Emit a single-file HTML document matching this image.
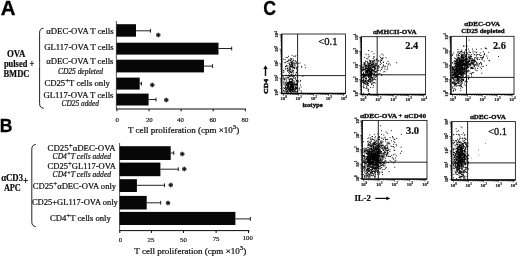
<!DOCTYPE html>
<html lang="en"><head><meta charset="utf-8"><title>Figure</title>
<style>html,body{margin:0;padding:0;background:#fff;}body{width:520px;height:257px;overflow:hidden;}svg{display:block;filter:blur(.35px);}text{font-family:"Liberation Serif",serif;fill:#0c0c0c;}.pl{font-family:"Liberation Sans",sans-serif;font-weight:bold;font-size:19.5px;fill:#000;stroke:#000;stroke-width:.3px;}.lb{font-size:8.7px;stroke:#111;stroke-width:.22px;}.it{font-size:7.6px;font-style:italic;stroke:#1a1a1a;stroke-width:.2px;}.bd{font-weight:bold;font-size:9.4px;stroke:#0c0c0c;stroke-width:.2px;}.il{font-size:8.8px;}.tk{font-size:6.8px;text-anchor:middle;stroke:#111;stroke-width:.18px;}.ax{font-size:8.7px;stroke:#111;stroke-width:.22px;}.tt{font-weight:bold;font-size:6.5px;text-anchor:middle;stroke:#0c0c0c;stroke-width:.3px;}.nm{font-weight:bold;font-size:10px;stroke:#0c0c0c;stroke-width:.2px;}.nr{font-size:10.2px;stroke:#111;stroke-width:.3px;}.ft{font-size:4.7px;text-anchor:middle;fill:#111;font-weight:bold;stroke:#111;stroke-width:.15px;}.st{font-size:10px;font-weight:bold;text-anchor:middle;stroke:#000;stroke-width:.3px;}.bar{fill:#070707;}.ln{stroke:#0a0a0a;stroke-width:1;fill:none;}.eb{stroke:#0a0a0a;stroke-width:.9;fill:none;}.va{stroke:#2a2a2a;stroke-width:.8;fill:none;}.fr{stroke:#111;stroke-width:.85;fill:none;}.th{stroke:#0a0a0a;stroke-width:0.9;fill:none;}.br{stroke:#151515;stroke-width:0.95;fill:none;}</style></head><body>
<svg width="520" height="257" viewBox="0 0 520 257">
<rect width="520" height="257" fill="#fff"/>
<text class="pl" transform="translate(0.8,14.7) scale(1.05,1)">A</text>
<text class="pl" transform="translate(-0.3,131.9) scale(0.9,0.95)">B</text>
<text class="pl" transform="translate(263.2,15.1) scale(0.91,1)">C</text>
<text id="t1" class="lb" style="text-anchor:start" transform="translate(46.3,34.3) scale(0.9983,1)">αDEC-OVA T cells</text>
<text id="t2" class="lb" style="text-anchor:start" transform="translate(44.2,50.4) scale(0.9961,1)">GL117-OVA T cells</text>
<text id="t3" class="lb" style="text-anchor:start" transform="translate(46.2,64.4) scale(0.9983,1)">αDEC-OVA T cells</text>
<text id="t4" class="it" style="text-anchor:start" transform="translate(57.9,73.7) scale(0.9855,1)">CD25 depleted</text>
<text id="t5" class="lb" style="text-anchor:start" transform="translate(44.4,86.4) scale(0.9980,1)">CD25<tspan dy="-3" font-size="7">+</tspan><tspan dy="3">T cells only</tspan></text>
<text id="t6" class="lb" style="text-anchor:start" transform="translate(43.4,98.1) scale(1.0046,1)">GL117-OVA T cells</text>
<text id="t7" class="it" style="text-anchor:start" transform="translate(61.5,106.3) scale(0.9716,1)">CD25 added</text>
<text id="t8" class="bd" style="text-anchor:start" transform="translate(7,57.3) scale(0.9369,1)">OVA</text>
<text id="t9" class="bd" style="text-anchor:start" transform="translate(3.9,67) scale(0.8978,1)">pulsed +</text>
<text id="t10" class="bd" style="text-anchor:start" transform="translate(3.4,76.5) scale(0.9075,1)">BMDC</text>
<path class="br" d="M43.6,28.2 Q39.6,28.2 39.6,32.9 L39.6,62.5 Q39.6,64.5 39.6,64.5 Q39.6,64.5 39.6,66.5 L39.6,103.5 Q39.6,108.2 43.6,108.2"/>
<path class="va" d="M116.4,21 V109"/><path class="ln" d="M116.0,109 H245.8"/>
<rect class="bar" x="116.4" y="24.2" width="19.6" height="12.5"/>
<path class="eb" d="M136,30.8 H150.4 M150.4,28.9 V32.7"/>
<text class="st" x="158.2" y="39.6">*</text>
<rect class="bar" x="116.4" y="42.7" width="102.1" height="11.9"/>
<path class="eb" d="M218.5,48.5 H231.7 M231.7,46.6 V50.4"/>
<rect class="bar" x="116.4" y="59.7" width="87.6" height="12.7"/>
<path class="eb" d="M204,66.1 H212.6 M212.6,64.2 V68.0"/>
<rect class="bar" x="116.4" y="77.6" width="23.3" height="12.0"/>
<path class="eb" d="M139.7,83.6 H141.4 M141.4,81.7 V85.5"/>
<text class="st" x="152.2" y="90.1">*</text>
<rect class="bar" x="116.4" y="93.6" width="32.2" height="11.9"/>
<path class="eb" d="M148.6,99.5 H156 M156,97.6 V101.5"/>
<text class="st" x="166.3" y="104.5">*</text>
<path class="ln" d="M116.9,109 V111.3"/>
<text id="t11" class="tk" x="117.3" y="121.5">0</text>
<path class="ln" d="M149.0,109 V111.3"/>
<text id="t12" class="tk" x="149.3" y="121.5">20</text>
<path class="ln" d="M181.10000000000002,109 V111.3"/>
<text id="t13" class="tk" x="180.5" y="121.5">40</text>
<path class="ln" d="M213.20000000000002,109 V111.3"/>
<text id="t14" class="tk" x="212.8" y="121.5">60</text>
<path class="ln" d="M245.3,109 V111.3"/>
<text id="t15" class="tk" x="244.9" y="121.5">80</text>
<text id="t16" class="ax" style="text-anchor:start" transform="translate(128,133) scale(1.0355,1)">T cell proliferation (cpm ×10<tspan dy="-4" font-size="6.5">3</tspan><tspan dy="4">)</tspan></text>
<text id="t17" class="lb" style="text-anchor:start" transform="translate(47.6,150.7) scale(1.0123,1)">CD25<tspan dy="-3" font-size="7">+</tspan><tspan dy="3">αDEC-OVA</tspan></text>
<text id="t18" class="it" style="text-anchor:start" transform="translate(52.6,158.6) scale(0.9976,1)">CD4<tspan dy="-2.4" font-size="5.8">+</tspan><tspan dy="2.4">T cells added</tspan></text>
<text id="t19" class="lb" style="text-anchor:start" transform="translate(47.6,169.1) scale(0.9811,1)">CD25<tspan dy="-3" font-size="7">+</tspan><tspan dy="3">GL117-OVA</tspan></text>
<text id="t20" class="it" style="text-anchor:start" transform="translate(52.6,177.4) scale(0.9976,1)">CD4<tspan dy="-2.4" font-size="5.8">+</tspan><tspan dy="2.4">T cells added</tspan></text>
<text id="t21" class="lb" style="text-anchor:start" transform="translate(32.7,188.8) scale(0.9890,1)">CD25<tspan dy="-3" font-size="7">+</tspan><tspan dy="3">αDEC-OVA only</tspan></text>
<text id="t22" class="lb" style="text-anchor:start" transform="translate(31.9,205.1) scale(0.9781,1)">CD25+GL117-OVA only</text>
<text id="t23" class="lb" style="text-anchor:start" transform="translate(50,220.6) scale(0.9921,1)">CD4<tspan dy="-3" font-size="7">+</tspan><tspan dy="3">T cells only</tspan></text>
<text id="t24" class="bd" style="text-anchor:start" transform="translate(1.2,180.6) scale(0.9296,1)">αCD3</text>
<text id="t25" class="bd" style="text-anchor:start" transform="translate(3.9,190.6) scale(0.8771,1)">APC</text>
<text id="t26" class="bd" x="25.6" y="184.4" text-anchor="middle">+</text>
<path class="br" d="M35.8,144.6 Q31.8,144.6 31.8,149.29999999999998 L31.8,182 Q31.8,184 31.8,184 Q31.8,184 31.8,186 L31.8,221.8 Q31.8,226.5 35.8,226.5"/>
<path class="va" d="M119.6,143 V230.6"/><path class="ln" d="M119.19999999999999,230.6 H249.4"/>
<rect class="bar" x="119.6" y="146.2" width="51.1" height="13.8"/>
<path class="eb" d="M170.7,153.0 H173.8 M173.8,151.1 V154.9"/>
<text class="st" x="182.3" y="159.0">*</text>
<rect class="bar" x="119.6" y="162.6" width="40.8" height="13.6"/>
<path class="eb" d="M160.4,169.2 H178.3 M178.3,167.3 V171.1"/>
<text class="st" x="184.2" y="174.3">*</text>
<rect class="bar" x="119.6" y="179.2" width="17.3" height="12.8"/>
<path class="eb" d="M136.9,185.3 H164.5 M164.5,183.4 V187.2"/>
<text class="st" x="170.8" y="190.3">*</text>
<rect class="bar" x="119.6" y="195.9" width="27.1" height="13.6"/>
<path class="eb" d="M146.7,202.8 H160.7 M160.7,200.9 V204.7"/>
<text class="st" x="168" y="207.7">*</text>
<rect class="bar" x="119.6" y="211.9" width="115.8" height="13.1"/>
<path class="eb" d="M235.4,218.9 H250.3 M250.3,217.0 V220.8"/>
<text id="t27" class="tk" x="120.5" y="242.1">0</text>
<text id="t28" class="tk" x="151" y="241.8">25</text>
<text id="t29" class="tk" x="183.4" y="241.7">50</text>
<text id="t30" class="tk" x="216.1" y="241">75</text>
<text id="t31" class="tk" x="247.8" y="239.7">100</text>
<path class="ln" d="M119.8,230.6v2.4M151.4,230.6v2.4M183.4,230.6v2.4M216.1,230.6v2.4M248.5,230.6v2.4"/>
<text id="t32" class="ax" style="text-anchor:start" transform="translate(134.3,254.2) scale(1.0420,1)">T cell proliferation (cpm ×10<tspan dy="-4" font-size="6.5">3</tspan><tspan dy="4">)</tspan></text>
<rect class="fr" x="281.8" y="34" width="63.7" height="59.5"/>
<path d="M281.7,34 V93.5" stroke="#000" stroke-width="1.15" fill="none"/><path d="M281.0,93.5 H345.5" stroke="#000" stroke-width="1.3" fill="none"/>
<path class="th" d="M297.6,34 V93.5 M281.8,75.6 H345.5"/>
<path d="M287.9,93.5 v1.5 M281.8,88.5 h-1.5 M290.6,93.5 v1.5 M281.8,85.9 h-1.5 M292.5,93.5 v1.5 M281.8,84.1 h-1.5 M293.9,93.5 v1.5 M281.8,82.7 h-1.5 M295.1,93.5 v1.5 M281.8,81.6 h-1.5 M296.1,93.5 v1.5 M281.8,80.6 h-1.5 M297.0,93.5 v1.5 M281.8,79.7 h-1.5 M297.7,93.5 v1.5 M281.8,79.0 h-1.5 M303.0,93.5 v1.5 M281.8,73.9 h-1.5 M305.6,93.5 v1.5 M281.8,71.4 h-1.5 M307.5,93.5 v1.5 M281.8,69.5 h-1.5 M308.9,93.5 v1.5 M281.8,68.1 h-1.5 M310.1,93.5 v1.5 M281.8,67.0 h-1.5 M311.1,93.5 v1.5 M281.8,66.0 h-1.5 M312.0,93.5 v1.5 M281.8,65.2 h-1.5 M312.8,93.5 v1.5 M281.8,64.4 h-1.5 M318.0,93.5 v1.5 M281.8,59.4 h-1.5 M320.6,93.5 v1.5 M281.8,56.8 h-1.5 M322.5,93.5 v1.5 M281.8,55.0 h-1.5 M324.0,93.5 v1.5 M281.8,53.6 h-1.5 M325.2,93.5 v1.5 M281.8,52.4 h-1.5 M326.2,93.5 v1.5 M281.8,51.4 h-1.5 M327.0,93.5 v1.5 M281.8,50.6 h-1.5 M327.8,93.5 v1.5 M281.8,49.8 h-1.5 M333.0,93.5 v1.5 M281.8,44.8 h-1.5 M335.7,93.5 v1.5 M281.8,42.2 h-1.5 M337.6,93.5 v1.5 M281.8,40.4 h-1.5 M339.0,93.5 v1.5 M281.8,39.0 h-1.5 M340.2,93.5 v1.5 M281.8,37.8 h-1.5 M341.2,93.5 v1.5 M281.8,36.8 h-1.5 M342.1,93.5 v1.5 M281.8,36.0 h-1.5 M342.8,93.5 v1.5 M281.8,35.3 h-1.5 M283.4,93.5 v2.4 M281.8,92.9 h-2.4 M298.4,93.5 v2.4 M281.8,78.3 h-2.4 M313.5,93.5 v2.4 M281.8,63.7 h-2.4 M328.5,93.5 v2.4 M281.8,49.2 h-2.4 M343.5,93.5 v2.4 M281.8,34.6 h-2.4" stroke="#111" stroke-width="0.6" fill="none"/>
<text class="ft" x="283.7" y="100.1">10<tspan dy="-1.7" font-size="3.3">0</tspan></text>
<text class="ft" transform="translate(278.4,92.6) rotate(-90)">10<tspan dy="-1.7" font-size="3.3">0</tspan></text>
<text class="ft" x="298.7" y="100.1">10<tspan dy="-1.7" font-size="3.3">1</tspan></text>
<text class="ft" transform="translate(278.4,78.0) rotate(-90)">10<tspan dy="-1.7" font-size="3.3">1</tspan></text>
<text class="ft" x="313.8" y="100.1">10<tspan dy="-1.7" font-size="3.3">2</tspan></text>
<text class="ft" transform="translate(278.4,63.4) rotate(-90)">10<tspan dy="-1.7" font-size="3.3">2</tspan></text>
<text class="ft" x="328.8" y="100.1">10<tspan dy="-1.7" font-size="3.3">3</tspan></text>
<text class="ft" transform="translate(278.4,48.9) rotate(-90)">10<tspan dy="-1.7" font-size="3.3">3</tspan></text>
<text class="ft" x="343.8" y="100.1">10<tspan dy="-1.7" font-size="3.3">4</tspan></text>
<text class="ft" transform="translate(278.4,34.3) rotate(-90)">10<tspan dy="-1.7" font-size="3.3">4</tspan></text>
<path d="M289.6,63.9h.95 M289.7,69.2h.95 M287.1,69.0h.95 M294.6,63.5h.95 M294.3,64.7h.95 M292.0,65.5h.95 M284.3,62.6h.95 M292.4,63.4h.95 M284.2,79.4h.95 M287.2,70.6h.95 M291.6,67.1h.95 M292.4,70.8h.95 M291.6,64.3h.95 M288.1,56.3h.95 M292.6,58.9h.95 M288.2,72.2h.95 M289.2,67.9h.95 M292.8,65.0h.95 M288.8,73.5h.95 M288.6,59.4h.95 M287.5,65.9h.95 M292.1,76.4h.95 M290.7,58.5h.95 M283.0,70.4h.95 M290.1,72.4h.95 M292.3,67.1h.95 M285.1,62.6h.95 M293.0,60.4h.95 M295.8,63.7h.95 M290.9,75.3h.95 M292.8,70.6h.95 M288.8,75.5h.95 M286.9,71.1h.95 M295.3,79.3h.95 M285.1,66.4h.95 M295.8,62.3h.95 M283.5,84.5h.95 M291.8,71.5h.95 M286.4,61.4h.95 M294.6,65.3h.95 M291.4,64.0h.95 M296.4,62.0h.95 M292.4,63.1h.95 M284.7,59.7h.95 M294.0,63.0h.95 M283.2,72.4h.95 M293.6,78.2h.95 M289.8,60.5h.95 M285.6,57.4h.95 M292.5,67.6h.95 M291.7,62.6h.95 M290.9,59.5h.95 M288.1,70.1h.95 M294.4,66.1h.95 M287.2,61.5h.95 M295.9,68.9h.95 M285.4,68.8h.95 M289.9,69.0h.95 M295.7,72.7h.95 M295.2,74.4h.95 M287.6,63.4h.95 M294.7,60.7h.95 M291.8,65.9h.95 M291.1,63.2h.95 M289.8,65.3h.95 M292.6,66.6h.95 M293.3,62.8h.95 M297.9,63.6h.95 M288.9,69.7h.95 M290.5,61.0h.95 M289.3,64.7h.95 M297.3,82.4h.95 M286.3,66.2h.95 M292.0,65.2h.95 M288.9,63.0h.95 M291.5,70.2h.95 M299.5,63.1h.95 M288.4,68.0h.95 M289.7,67.6h.95 M289.5,71.9h.95 M289.0,64.4h.95 M291.1,74.8h.95 M291.1,72.6h.95 M291.6,55.2h.95 M297.7,66.9h.95 M292.9,77.8h.95 M290.3,71.7h.95 M287.1,68.3h.95 M291.4,66.6h.95 M290.0,62.2h.95 M287.2,82.7h.95 M293.9,68.1h.95 M291.0,62.4h.95 M291.3,62.7h.95 M284.8,77.8h.95 M292.8,72.8h.95 M286.7,77.2h.95 M295.2,61.3h.95 M296.0,72.1h.95 M290.5,74.4h.95 M293.3,56.2h.95 M287.2,57.5h.95 M294.2,67.5h.95 M283.2,59.2h.95 M290.1,71.0h.95 M292.0,64.1h.95 M296.0,72.6h.95 M294.7,56.6h.95 M295.9,67.2h.95 M287.7,60.9h.95 M290.9,66.1h.95 M295.8,67.8h.95 M283.4,71.0h.95 M285.5,66.7h.95 M293.2,67.8h.95 M293.1,70.8h.95 M289.0,70.3h.95 M291.5,61.7h.95 M288.6,75.6h.95 M291.8,61.2h.95 M288.3,60.7h.95 M288.3,75.1h.95 M289.6,60.2h.95 M291.0,66.7h.95 M290.8,65.7h.95 M288.3,77.6h.95 M291.5,72.2h.95 M289.4,75.4h.95 M290.0,66.4h.95 M288.8,71.8h.95 M289.5,69.1h.95 M296.8,74.2h.95 M290.3,66.1h.95 M282.9,76.8h.95 M284.8,68.8h.95 M286.1,65.4h.95 M296.8,76.7h.95 M290.2,58.8h.95 M297.1,70.2h.95 M291.7,64.3h.95 M289.2,66.3h.95 M290.6,64.5h.95 M287.4,77.5h.95 M292.2,69.0h.95 M289.4,76.5h.95 M295.3,55.7h.95 M293.1,67.5h.95 M294.1,68.3h.95 M292.6,60.8h.95 M287.1,68.2h.95 M291.4,82.4h.95 M290.2,87.2h.95 M286.5,88.2h.95 M293.6,85.6h.95 M287.1,90.4h.95 M300.2,80.4h.95 M292.7,86.9h.95 M292.6,83.9h.95 M296.5,83.9h.95 M290.1,83.9h.95 M283.1,82.0h.95 M291.5,89.5h.95 M295.2,77.7h.95 M285.1,89.7h.95 M291.4,85.4h.95 M288.8,90.9h.95 M298.1,81.0h.95 M285.9,92.2h.95 M296.6,81.4h.95 M297.0,82.2h.95 M287.1,85.3h.95 M283.1,90.2h.95 M293.6,85.9h.95 M292.1,85.4h.95 M291.3,85.1h.95 M293.4,88.7h.95 M296.2,87.3h.95 M294.5,84.2h.95 M293.4,82.6h.95 M290.6,78.8h.95 M290.9,89.1h.95 M289.5,88.1h.95 M291.7,79.5h.95 M294.5,90.9h.95 M292.1,83.9h.95 M287.1,91.5h.95 M290.1,82.1h.95 M289.9,82.8h.95 M285.3,89.7h.95 M287.5,87.4h.95 M291.3,85.0h.95 M291.3,86.4h.95 M287.5,85.5h.95 M291.6,81.2h.95 M284.0,88.5h.95 M287.7,86.3h.95 M293.4,88.7h.95 M290.8,89.7h.95 M291.3,74.3h.95 M287.9,89.7h.95 M289.5,82.5h.95 M289.6,86.5h.95 M290.4,90.1h.95 M293.1,89.2h.95 M290.3,86.8h.95 M290.3,86.5h.95 M291.9,87.3h.95 M290.9,82.4h.95 M290.7,85.6h.95 M295.2,91.5h.95 M289.2,90.4h.95 M285.4,83.3h.95 M287.8,92.4h.95 M299.8,81.4h.95 M295.1,86.9h.95 M289.4,81.4h.95 M283.6,91.9h.95 M286.0,85.6h.95 M288.4,91.8h.95 M289.6,82.1h.95 M284.5,83.8h.95 M286.0,81.1h.95 M286.8,87.7h.95 M287.8,84.0h.95 M290.7,87.7h.95 M291.6,83.2h.95 M286.2,91.0h.95 M286.6,88.8h.95 M286.4,78.3h.95 M290.4,86.4h.95 M285.9,91.9h.95 M289.1,79.5h.95 M292.7,86.2h.95 M291.8,86.9h.95 M296.3,83.8h.95 M296.1,80.6h.95 M289.6,90.2h.95 M293.1,89.3h.95 M284.5,91.5h.95 M286.7,84.2h.95 M291.3,86.4h.95 M296.4,87.9h.95 M294.8,84.4h.95 M290.4,87.1h.95 M295.8,88.4h.95 M285.1,88.0h.95 M294.6,91.1h.95 M291.2,79.1h.95 M295.6,82.0h.95 M300.0,84.9h.95 M290.0,90.5h.95 M292.0,81.3h.95 M289.5,86.7h.95 M292.8,83.2h.95 M289.4,88.6h.95 M289.3,87.4h.95 M288.9,80.7h.95 M295.4,89.4h.95 M289.9,87.3h.95 M287.7,82.2h.95 M287.7,86.1h.95 M290.3,91.3h.95 M290.5,87.1h.95 M292.2,88.4h.95 M293.0,86.0h.95 M290.1,86.3h.95 M283.2,79.1h.95 M296.1,88.2h.95 M283.2,87.9h.95 M295.2,86.0h.95 M287.8,82.7h.95 M290.1,84.9h.95 M295.9,80.8h.95 M288.4,75.9h.95 M290.3,82.7h.95 M287.9,86.7h.95 M283.8,78.5h.95 M295.4,91.6h.95 M284.7,90.9h.95 M294.7,88.1h.95 M290.1,87.8h.95 M289.9,91.3h.95 M290.4,92.1h.95 M290.0,84.9h.95 M292.0,87.3h.95 M287.0,85.8h.95 M288.5,79.2h.95 M293.1,86.7h.95 M288.6,89.6h.95 M286.8,88.1h.95 M291.4,83.9h.95 M292.4,76.5h.95 M287.7,86.4h.95 M300.6,90.8h.95 M288.4,85.6h.95 M290.9,84.4h.95 M289.4,84.7h.95 M290.5,82.7h.95 M283.3,90.8h.95 M290.3,91.0h.95 M286.4,83.7h.95 M287.9,83.5h.95 M293.1,84.7h.95 M292.2,86.7h.95 M285.1,86.8h.95 M292.0,88.6h.95 M289.9,82.9h.95 M287.1,83.6h.95 M297.2,88.4h.95 M290.8,87.0h.95 M296.0,84.5h.95 M293.6,89.3h.95 M290.2,86.3h.95 M283.7,80.1h.95 M293.6,90.9h.95 M293.1,86.7h.95 M292.0,84.5h.95 M284.8,87.6h.95 M295.8,88.6h.95 M286.5,92.2h.95 M285.8,85.0h.95 M296.6,83.9h.95 M291.2,76.0h.95 M288.4,89.5h.95 M292.3,83.7h.95 M286.5,91.9h.95 M291.4,85.1h.95 M285.5,87.5h.95 M288.3,84.3h.95 M289.9,86.7h.95 M289.0,81.5h.95 M295.4,87.7h.95 M293.4,89.6h.95 M290.6,82.8h.95 M295.9,87.7h.95 M290.0,85.4h.95 M284.8,86.6h.95 M287.8,84.7h.95 M286.1,89.4h.95 M290.4,85.1h.95 M288.3,82.3h.95 M289.3,89.1h.95 M292.1,91.6h.95 M287.8,86.6h.95 M293.4,86.9h.95 M291.4,89.2h.95 M291.4,78.6h.95 M287.8,75.6h.95 M287.9,86.4h.95 M290.9,81.6h.95 M285.7,88.8h.95 M292.5,82.5h.95 M292.6,74.1h.95 M291.1,85.1h.95 M293.7,84.4h.95 M296.5,91.6h.95 M288.9,82.8h.95 M293.3,87.8h.95 M293.7,76.2h.95 M290.3,87.5h.95 M288.5,90.3h.95 M288.0,83.5h.95 M290.4,86.0h.95 M289.7,82.1h.95 M292.1,86.8h.95 M292.8,86.8h.95 M286.0,79.9h.95 M292.0,90.6h.95 M294.3,84.5h.95 M284.5,79.3h.95 M291.5,82.1h.95 M291.0,86.9h.95 M284.6,82.2h.95 M290.4,87.6h.95 M291.6,85.9h.95 M292.8,87.8h.95 M290.2,88.9h.95 M288.7,83.3h.95 M295.2,87.7h.95 M289.9,79.1h.95 M289.1,83.0h.95 M296.5,85.7h.95 M294.8,89.3h.95 M291.1,86.6h.95 M290.7,81.1h.95 M299.1,88.8h.95 M288.2,84.1h.95 M286.4,84.3h.95 M292.4,87.4h.95 M292.3,91.7h.95 M293.1,91.8h.95 M287.7,89.0h.95 M288.8,82.4h.95 M290.6,88.1h.95 M292.3,78.9h.95 M290.3,84.6h.95 M294.9,84.8h.95 M285.5,75.2h.95 M298.5,90.1h.95 M290.2,84.4h.95 M293.9,83.0h.95 M289.3,91.2h.95 M290.7,81.5h.95 M286.3,91.3h.95 M290.2,89.8h.95 M289.3,88.4h.95 M292.0,89.4h.95 M287.0,88.3h.95 M290.1,89.4h.95 M290.3,82.9h.95 M294.7,78.2h.95 M287.4,88.4h.95 M282.7,78.1h.95 M297.0,91.1h.95 M292.8,80.7h.95 M283.4,83.0h.95 M291.1,84.1h.95 M291.9,80.2h.95 M289.5,82.3h.95 M288.8,83.0h.95 M287.3,87.0h.95 M296.7,83.9h.95 M289.7,91.6h.95 M287.4,85.6h.95 M293.8,84.1h.95 M292.2,86.4h.95 M295.3,87.8h.95 M288.3,82.3h.95 M290.5,87.6h.95 M288.2,87.6h.95 M292.6,84.5h.95 M285.8,84.6h.95 M291.0,90.9h.95 M293.2,87.4h.95 M289.1,82.7h.95 M295.2,89.2h.95 M291.9,90.2h.95 M298.9,88.0h.95 M294.7,89.0h.95 M293.3,75.9h.95 M292.2,86.0h.95 M290.7,82.3h.95 M288.0,84.4h.95 M286.9,82.7h.95 M287.5,86.1h.95 M290.8,92.5h.95 M288.6,84.7h.95 M289.4,89.5h.95 M287.8,89.0h.95 M290.2,87.5h.95 M294.7,84.1h.95 M289.5,90.4h.95 M290.7,83.3h.95 M289.8,78.6h.95 M296.6,80.7h.95 M289.6,76.4h.95 M293.1,91.3h.95 M295.5,92.2h.95 M285.6,82.3h.95 M295.8,85.1h.95 M294.0,81.2h.95 M284.6,85.3h.95 M292.7,90.6h.95 M292.9,87.9h.95 M291.6,86.1h.95 M296.2,84.9h.95 M289.7,91.5h.95 M287.9,77.9h.95 M292.0,81.6h.95 M293.7,92.2h.95 M288.7,88.1h.95 M293.9,90.3h.95 M288.4,89.1h.95 M286.9,87.4h.95 M290.6,90.2h.95 M287.4,85.8h.95 M296.6,85.0h.95 M286.3,84.3h.95 M294.1,84.2h.95 M291.5,88.1h.95 M300.6,86.9h.95 M301.3,67.0h.95 M301.1,66.7h.95 M302.4,76.3h.95 M296.5,69.1h.95 M301.2,92.1h.95 M305.1,67.7h.95 M304.5,65.0h.95" stroke="#000" stroke-width="0.95" fill="none"/>
<text id="t33" class="nr" style="text-anchor:start" transform="translate(318.3,45.4) scale(1.0387,1)">&lt;0.1</text>
<text id="t34" class="tt" style="text-anchor:start" transform="translate(302.4,107.2) scale(1.0502,1)">isotype</text>
<rect class="fr" x="361.3" y="36.7" width="64.3" height="57.8"/>
<path d="M361.2,36.7 V94.5" stroke="#000" stroke-width="1.15" fill="none"/><path d="M360.5,94.5 H425.6" stroke="#000" stroke-width="1.3" fill="none"/>
<path class="th" d="M377.2,36.7 V94.5 M361.3,74.8 H425.6"/>
<path d="M367.5,94.5 v1.5 M361.3,89.6 h-1.5 M370.1,94.5 v1.5 M361.3,87.1 h-1.5 M372.0,94.5 v1.5 M361.3,85.4 h-1.5 M373.5,94.5 v1.5 M361.3,84.0 h-1.5 M374.7,94.5 v1.5 M361.3,82.9 h-1.5 M375.7,94.5 v1.5 M361.3,81.9 h-1.5 M376.6,94.5 v1.5 M361.3,81.1 h-1.5 M377.4,94.5 v1.5 M361.3,80.4 h-1.5 M382.6,94.5 v1.5 M361.3,75.5 h-1.5 M385.3,94.5 v1.5 M361.3,73.0 h-1.5 M387.2,94.5 v1.5 M361.3,71.2 h-1.5 M388.7,94.5 v1.5 M361.3,69.8 h-1.5 M389.9,94.5 v1.5 M361.3,68.7 h-1.5 M390.9,94.5 v1.5 M361.3,67.8 h-1.5 M391.8,94.5 v1.5 M361.3,67.0 h-1.5 M392.6,94.5 v1.5 M361.3,66.2 h-1.5 M397.8,94.5 v1.5 M361.3,61.3 h-1.5 M400.5,94.5 v1.5 M361.3,58.8 h-1.5 M402.4,94.5 v1.5 M361.3,57.1 h-1.5 M403.9,94.5 v1.5 M361.3,55.7 h-1.5 M405.1,94.5 v1.5 M361.3,54.6 h-1.5 M406.1,94.5 v1.5 M361.3,53.6 h-1.5 M407.0,94.5 v1.5 M361.3,52.8 h-1.5 M407.7,94.5 v1.5 M361.3,52.1 h-1.5 M413.0,94.5 v1.5 M361.3,47.2 h-1.5 M415.7,94.5 v1.5 M361.3,44.7 h-1.5 M417.6,94.5 v1.5 M361.3,42.9 h-1.5 M419.0,94.5 v1.5 M361.3,41.5 h-1.5 M420.2,94.5 v1.5 M361.3,40.4 h-1.5 M421.2,94.5 v1.5 M361.3,39.4 h-1.5 M422.1,94.5 v1.5 M361.3,38.6 h-1.5 M422.9,94.5 v1.5 M361.3,37.9 h-1.5 M362.9,94.5 v2.4 M361.3,93.9 h-2.4 M378.1,94.5 v2.4 M361.3,79.7 h-2.4 M393.2,94.5 v2.4 M361.3,65.6 h-2.4 M408.4,94.5 v2.4 M361.3,51.4 h-2.4 M423.6,94.5 v2.4 M361.3,37.3 h-2.4" stroke="#111" stroke-width="0.6" fill="none"/>
<text class="ft" x="363.2" y="101.1">10<tspan dy="-1.7" font-size="3.3">0</tspan></text>
<text class="ft" transform="translate(357.9,93.6) rotate(-90)">10<tspan dy="-1.7" font-size="3.3">0</tspan></text>
<text class="ft" x="378.4" y="101.1">10<tspan dy="-1.7" font-size="3.3">1</tspan></text>
<text class="ft" transform="translate(357.9,79.4) rotate(-90)">10<tspan dy="-1.7" font-size="3.3">1</tspan></text>
<text class="ft" x="393.5" y="101.1">10<tspan dy="-1.7" font-size="3.3">2</tspan></text>
<text class="ft" transform="translate(357.9,65.3) rotate(-90)">10<tspan dy="-1.7" font-size="3.3">2</tspan></text>
<text class="ft" x="408.7" y="101.1">10<tspan dy="-1.7" font-size="3.3">3</tspan></text>
<text class="ft" transform="translate(357.9,51.1) rotate(-90)">10<tspan dy="-1.7" font-size="3.3">3</tspan></text>
<text class="ft" x="423.9" y="101.1">10<tspan dy="-1.7" font-size="3.3">4</tspan></text>
<text class="ft" transform="translate(357.9,37.0) rotate(-90)">10<tspan dy="-1.7" font-size="3.3">4</tspan></text>
<path d="M368.2,71.1h.95 M366.1,65.4h.95 M367.8,57.1h.95 M366.1,67.4h.95 M373.9,67.5h.95 M367.7,80.8h.95 M373.3,61.6h.95 M374.9,71.7h.95 M375.0,63.9h.95 M371.7,66.7h.95 M367.1,74.4h.95 M372.7,71.6h.95 M369.2,70.7h.95 M370.3,61.4h.95 M366.1,70.5h.95 M366.9,72.9h.95 M366.5,84.5h.95 M367.3,83.3h.95 M374.1,79.3h.95 M366.6,71.2h.95 M367.1,63.0h.95 M368.1,83.8h.95 M372.4,73.0h.95 M379.5,73.4h.95 M366.7,73.1h.95 M364.3,69.6h.95 M373.8,56.8h.95 M370.3,72.2h.95 M373.6,60.2h.95 M367.8,76.6h.95 M365.6,72.5h.95 M368.3,66.8h.95 M372.4,79.1h.95 M370.1,68.9h.95 M367.1,72.1h.95 M373.6,69.7h.95 M368.3,75.2h.95 M369.7,75.6h.95 M370.4,80.6h.95 M365.8,71.3h.95 M373.3,74.4h.95 M368.6,67.6h.95 M367.2,71.6h.95 M369.6,82.2h.95 M362.6,74.5h.95 M364.6,75.0h.95 M368.9,78.7h.95 M364.5,81.4h.95 M372.6,87.4h.95 M371.3,72.0h.95 M365.5,72.6h.95 M367.7,80.9h.95 M367.6,73.2h.95 M369.6,72.1h.95 M367.7,90.4h.95 M365.5,71.3h.95 M370.2,79.0h.95 M365.5,83.2h.95 M363.0,72.8h.95 M371.1,72.2h.95 M369.4,62.3h.95 M364.2,75.4h.95 M367.9,66.2h.95 M363.2,87.8h.95 M369.6,77.5h.95 M369.1,68.3h.95 M370.0,65.5h.95 M369.1,72.6h.95 M362.6,69.3h.95 M363.5,76.5h.95 M373.0,82.8h.95 M370.9,77.5h.95 M367.9,85.5h.95 M363.3,73.7h.95 M368.1,67.6h.95 M368.0,91.3h.95 M368.2,79.8h.95 M370.7,76.3h.95 M368.8,56.3h.95 M364.4,83.5h.95 M363.1,93.2h.95 M370.8,78.0h.95 M367.5,83.1h.95 M367.4,68.6h.95 M367.2,75.7h.95 M370.1,74.3h.95 M370.0,71.5h.95 M371.4,74.4h.95 M368.9,71.3h.95 M373.8,67.1h.95 M364.5,83.7h.95 M368.2,75.8h.95 M365.3,78.4h.95 M371.1,84.2h.95 M369.4,74.2h.95 M373.8,82.4h.95 M370.0,73.4h.95 M368.8,69.2h.95 M375.3,66.2h.95 M370.3,81.9h.95 M370.7,81.3h.95 M367.9,69.8h.95 M373.4,63.0h.95 M369.2,66.2h.95 M367.6,72.6h.95 M368.2,66.9h.95 M367.5,80.5h.95 M364.2,57.6h.95 M372.0,69.5h.95 M362.4,71.0h.95 M365.0,65.1h.95 M365.8,75.6h.95 M369.3,75.0h.95 M369.3,76.7h.95 M370.8,71.6h.95 M369.1,93.4h.95 M372.6,70.5h.95 M362.7,75.8h.95 M368.4,70.1h.95 M365.8,68.5h.95 M367.3,71.0h.95 M373.9,73.7h.95 M368.3,75.0h.95 M367.2,70.9h.95 M362.7,73.5h.95 M363.2,80.4h.95 M371.3,84.0h.95 M373.1,56.9h.95 M372.3,65.8h.95 M368.7,74.1h.95 M376.2,76.2h.95 M368.3,68.9h.95 M366.5,83.0h.95 M369.4,72.1h.95 M362.1,80.5h.95 M365.6,76.5h.95 M370.2,65.9h.95 M363.8,75.6h.95 M366.0,86.3h.95 M370.7,75.2h.95 M367.4,88.7h.95 M370.1,71.7h.95 M370.7,75.5h.95 M373.8,67.7h.95 M366.5,70.8h.95 M370.6,76.0h.95 M372.3,67.3h.95 M371.1,63.9h.95 M377.6,68.5h.95 M366.6,70.5h.95 M367.9,89.4h.95 M375.4,65.9h.95 M362.5,80.6h.95 M369.3,74.8h.95 M367.0,71.7h.95 M371.8,63.7h.95 M369.1,69.6h.95 M362.8,86.6h.95 M368.3,77.1h.95 M368.8,78.9h.95 M366.0,75.1h.95 M370.4,76.7h.95 M369.6,75.0h.95 M362.6,80.6h.95 M363.5,81.8h.95 M369.2,74.9h.95 M367.1,85.2h.95 M371.4,73.8h.95 M363.2,75.7h.95 M372.2,81.1h.95 M369.7,81.8h.95 M371.3,67.1h.95 M367.3,80.9h.95 M363.0,82.5h.95 M371.1,69.5h.95 M368.1,77.4h.95 M367.7,69.7h.95 M362.1,81.0h.95 M362.6,79.1h.95 M363.0,76.6h.95 M370.4,79.9h.95 M362.3,67.2h.95 M364.9,74.5h.95 M366.4,66.9h.95 M368.0,67.5h.95 M369.3,73.5h.95 M368.7,79.7h.95 M370.2,74.3h.95 M365.0,75.2h.95 M370.9,72.6h.95 M367.9,77.3h.95 M369.9,63.2h.95 M373.0,66.6h.95 M363.4,85.1h.95 M369.2,69.6h.95 M377.7,74.5h.95 M372.5,65.0h.95 M362.1,82.4h.95 M368.9,76.4h.95 M367.7,69.8h.95 M365.3,71.1h.95 M365.9,78.4h.95 M370.3,76.3h.95 M369.4,60.4h.95 M368.4,74.1h.95 M371.0,74.3h.95 M372.3,80.6h.95 M370.6,75.7h.95 M365.3,61.2h.95 M365.2,61.4h.95 M370.7,60.7h.95 M364.7,65.8h.95 M373.7,71.0h.95 M367.8,54.7h.95 M369.0,75.8h.95 M366.0,70.9h.95 M369.5,71.0h.95 M374.7,72.1h.95 M370.1,61.1h.95 M364.6,67.1h.95 M375.1,79.7h.95 M364.2,83.0h.95 M363.2,73.2h.95 M366.7,82.5h.95 M368.1,81.2h.95 M371.8,77.6h.95 M368.1,67.6h.95 M371.1,64.8h.95 M372.2,67.9h.95 M370.9,64.7h.95 M363.7,75.3h.95 M368.6,73.5h.95 M370.5,79.0h.95 M363.2,79.9h.95 M370.2,78.1h.95 M362.7,67.9h.95 M364.3,64.9h.95 M369.2,79.7h.95 M363.6,87.5h.95 M362.3,75.6h.95 M363.2,83.6h.95 M374.5,75.4h.95 M371.4,84.1h.95 M367.3,71.6h.95 M372.1,79.5h.95 M370.5,68.9h.95 M365.6,70.8h.95 M365.0,80.8h.95 M368.2,93.5h.95 M367.9,80.8h.95 M362.9,79.1h.95 M371.1,74.6h.95 M373.0,79.3h.95 M363.4,63.8h.95 M369.8,65.1h.95 M365.2,68.5h.95 M369.3,67.6h.95 M368.4,63.8h.95 M365.9,81.5h.95 M362.8,67.1h.95 M365.6,82.3h.95 M364.8,78.2h.95 M363.6,77.7h.95 M366.0,78.4h.95 M364.7,74.6h.95 M366.6,73.0h.95 M369.2,69.9h.95 M365.4,72.3h.95 M363.7,75.8h.95 M371.4,77.2h.95 M369.8,82.0h.95 M370.5,69.5h.95 M367.8,75.2h.95 M367.9,63.1h.95 M372.9,85.6h.95 M364.5,76.2h.95 M368.5,80.6h.95 M371.5,51.7h.95 M364.3,82.8h.95 M368.9,64.0h.95 M371.5,70.3h.95 M370.4,71.2h.95 M368.3,74.5h.95 M366.6,70.7h.95 M368.0,70.5h.95 M366.9,61.8h.95 M369.0,72.1h.95 M374.3,68.9h.95 M369.4,70.6h.95 M362.5,68.5h.95 M363.6,66.3h.95 M370.9,73.7h.95 M364.3,69.8h.95 M367.1,61.9h.95 M367.0,72.4h.95 M368.3,81.1h.95 M362.8,70.2h.95 M369.8,72.8h.95 M366.1,68.6h.95 M365.0,68.0h.95 M369.6,79.5h.95 M366.5,75.8h.95 M366.4,71.9h.95 M364.9,81.3h.95 M364.2,81.7h.95 M370.1,67.9h.95 M362.9,75.5h.95 M377.6,60.5h.95 M366.3,87.6h.95 M365.8,65.3h.95 M375.2,71.4h.95 M365.7,78.2h.95 M362.4,69.8h.95 M363.7,64.5h.95 M364.2,75.2h.95 M368.5,73.5h.95 M372.2,82.9h.95 M364.8,73.2h.95 M367.6,66.5h.95 M362.4,69.5h.95 M364.7,77.1h.95 M375.4,65.2h.95 M363.0,69.8h.95 M366.5,65.7h.95 M370.7,70.3h.95 M365.9,74.2h.95 M373.3,75.4h.95 M368.8,73.1h.95 M374.5,67.6h.95 M364.3,63.4h.95 M371.8,70.4h.95 M365.6,88.5h.95 M364.5,68.1h.95 M365.3,84.5h.95 M369.0,70.8h.95 M370.5,66.9h.95 M373.5,76.6h.95 M371.9,78.5h.95 M370.9,70.3h.95 M369.2,65.2h.95 M368.2,64.6h.95 M371.5,70.3h.95 M366.2,79.8h.95 M366.3,75.6h.95 M368.2,50.5h.95 M370.7,65.9h.95 M365.1,80.0h.95 M367.1,72.2h.95 M364.5,62.8h.95 M366.2,66.0h.95 M362.3,77.6h.95 M369.0,69.8h.95 M372.8,67.6h.95 M371.1,77.6h.95 M376.0,74.4h.95 M372.9,66.6h.95 M366.8,71.5h.95 M371.1,73.0h.95 M363.4,79.8h.95 M373.6,73.2h.95 M365.1,69.5h.95 M373.5,53.7h.95 M370.9,71.9h.95 M371.1,70.1h.95 M363.5,62.4h.95 M374.1,78.1h.95 M374.5,65.9h.95 M367.0,84.3h.95 M369.5,72.6h.95 M372.1,61.0h.95 M373.5,74.5h.95 M366.8,64.2h.95 M368.4,76.5h.95 M367.0,68.5h.95 M371.3,65.3h.95 M369.6,67.4h.95 M371.8,62.3h.95 M374.2,69.0h.95 M368.6,70.9h.95 M370.6,74.1h.95 M375.1,75.5h.95 M369.9,74.8h.95 M366.7,72.7h.95 M374.7,75.9h.95 M365.5,80.5h.95 M364.6,63.1h.95 M363.1,74.2h.95 M369.9,68.0h.95 M373.8,65.9h.95 M366.3,75.4h.95 M370.3,76.3h.95 M366.5,71.7h.95 M367.4,59.2h.95 M367.2,69.7h.95 M365.1,74.3h.95 M369.8,74.3h.95 M369.6,72.7h.95 M372.6,77.6h.95 M369.3,64.1h.95 M367.7,67.7h.95 M369.4,65.6h.95 M381.4,67.6h.95 M369.8,73.8h.95 M366.4,58.4h.95 M373.9,65.8h.95 M365.5,54.3h.95 M375.0,68.1h.95 M367.2,70.1h.95 M375.3,69.1h.95 M366.0,75.0h.95 M362.4,70.4h.95 M367.4,68.0h.95 M374.0,71.2h.95 M365.9,71.4h.95 M369.1,79.5h.95 M365.6,75.2h.95 M370.8,80.7h.95 M364.5,71.2h.95 M363.8,74.6h.95 M369.6,73.2h.95 M364.5,75.4h.95 M367.1,71.1h.95 M365.2,66.4h.95 M362.1,77.6h.95 M368.3,65.7h.95 M366.0,70.1h.95 M366.2,68.5h.95 M374.7,72.6h.95 M369.9,79.1h.95 M371.9,62.0h.95 M368.4,81.5h.95 M369.8,63.5h.95 M372.3,64.7h.95 M363.0,81.7h.95 M368.3,75.7h.95 M374.7,83.1h.95 M363.9,75.0h.95 M363.8,77.2h.95 M377.9,65.4h.95 M368.7,68.1h.95 M370.5,68.4h.95 M368.7,74.5h.95 M373.0,63.8h.95 M368.5,71.5h.95 M364.4,80.9h.95 M362.6,77.7h.95 M374.3,60.7h.95 M368.1,75.4h.95 M371.4,65.2h.95 M365.3,74.6h.95 M381.1,60.5h.95 M382.1,58.5h.95 M378.5,67.7h.95 M365.6,73.2h.95 M382.7,55.0h.95 M382.4,66.2h.95 M364.2,64.4h.95 M369.1,69.0h.95 M387.3,66.1h.95 M373.3,63.3h.95 M372.2,62.0h.95 M388.6,63.4h.95 M387.0,68.1h.95 M377.3,67.1h.95 M376.0,60.1h.95 M371.5,71.3h.95 M373.4,67.2h.95 M368.4,65.6h.95 M379.8,64.5h.95 M387.9,64.3h.95 M385.1,66.3h.95 M381.3,75.3h.95 M377.4,66.6h.95 M372.5,70.5h.95 M373.6,70.8h.95 M376.0,59.2h.95 M362.4,65.1h.95 M385.5,57.7h.95 M382.5,57.6h.95 M373.7,67.4h.95 M383.8,66.8h.95 M375.2,64.1h.95 M378.6,66.8h.95 M382.9,64.9h.95 M381.1,58.5h.95 M380.6,60.5h.95 M367.9,75.8h.95 M371.7,64.6h.95 M386.5,69.7h.95 M378.1,70.2h.95 M370.9,69.1h.95 M380.8,63.4h.95 M384.3,69.1h.95 M382.2,58.9h.95 M376.5,63.2h.95 M372.1,73.3h.95 M373.2,70.5h.95 M396.2,62.7h.95 M387.6,61.4h.95 M378.2,61.2h.95 M370.5,62.5h.95 M378.6,73.7h.95 M380.2,61.6h.95 M379.2,56.1h.95 M373.1,64.0h.95 M381.2,69.5h.95 M384.4,71.6h.95 M366.9,65.8h.95 M368.4,68.9h.95 M364.5,69.1h.95 M368.1,66.5h.95 M365.3,66.7h.95 M374.1,66.2h.95 M375.5,65.4h.95 M366.8,83.2h.95 M376.2,71.2h.95 M372.8,64.6h.95 M362.1,74.5h.95 M371.7,73.2h.95 M378.3,66.1h.95 M370.3,73.3h.95 M381.7,68.0h.95 M380.1,62.2h.95 M362.7,76.1h.95 M376.0,64.1h.95 M381.5,59.9h.95 M383.2,65.9h.95 M374.5,62.1h.95 M373.0,61.0h.95 M364.9,65.7h.95 M374.8,77.4h.95 M382.9,62.2h.95 M376.1,72.0h.95 M372.7,58.5h.95 M370.2,87.3h.95 M370.0,74.5h.95 M375.1,68.5h.95 M369.6,72.6h.95 M383.3,71.9h.95 M389.7,64.9h.95 M368.4,63.9h.95 M379.9,70.7h.95 M381.2,74.8h.95 M369.5,61.6h.95 M374.2,73.9h.95 M379.6,59.8h.95 M375.8,76.2h.95 M373.6,64.4h.95 M381.4,54.0h.95 M374.2,69.2h.95 M375.7,59.3h.95 M369.4,60.6h.95 M362.5,67.3h.95 M373.9,60.1h.95 M371.5,67.5h.95 M380.1,57.6h.95 M370.8,70.7h.95 M386.0,63.3h.95 M383.0,62.4h.95 M377.4,70.3h.95" stroke="#000" stroke-width="0.95" fill="none"/>
<text id="t35" class="nm" style="text-anchor:start" transform="translate(405.2,49.3) scale(1.0400,1)">2.4</text>
<text id="t36" class="tt" style="text-anchor:start" transform="translate(372.9,33.7) scale(1.0849,1)">αMHCII-OVA</text>
<rect class="fr" x="451" y="36.3" width="63.0" height="58.1"/>
<path d="M450.9,36.3 V94.4" stroke="#000" stroke-width="1.15" fill="none"/><path d="M450.2,94.4 H514" stroke="#000" stroke-width="1.3" fill="none"/>
<path class="th" d="M466.5,36.3 V94.4 M451,77.4 H514"/>
<path d="M457.1,94.4 v1.5 M451,89.5 h-1.5 M459.7,94.4 v1.5 M451,87.0 h-1.5 M461.6,94.4 v1.5 M451,85.2 h-1.5 M463.0,94.4 v1.5 M451,83.9 h-1.5 M464.2,94.4 v1.5 M451,82.7 h-1.5 M465.2,94.4 v1.5 M451,81.8 h-1.5 M466.0,94.4 v1.5 M451,80.9 h-1.5 M466.8,94.4 v1.5 M451,80.2 h-1.5 M471.9,94.4 v1.5 M451,75.3 h-1.5 M474.6,94.4 v1.5 M451,72.8 h-1.5 M476.4,94.4 v1.5 M451,71.0 h-1.5 M477.9,94.4 v1.5 M451,69.6 h-1.5 M479.0,94.4 v1.5 M451,68.5 h-1.5 M480.0,94.4 v1.5 M451,67.5 h-1.5 M480.9,94.4 v1.5 M451,66.7 h-1.5 M481.7,94.4 v1.5 M451,66.0 h-1.5 M486.8,94.4 v1.5 M451,61.0 h-1.5 M489.4,94.4 v1.5 M451,58.5 h-1.5 M491.3,94.4 v1.5 M451,56.8 h-1.5 M492.7,94.4 v1.5 M451,55.4 h-1.5 M493.9,94.4 v1.5 M451,54.3 h-1.5 M494.9,94.4 v1.5 M451,53.3 h-1.5 M495.8,94.4 v1.5 M451,52.5 h-1.5 M496.5,94.4 v1.5 M451,51.7 h-1.5 M501.7,94.4 v1.5 M451,46.8 h-1.5 M504.3,94.4 v1.5 M451,44.3 h-1.5 M506.2,94.4 v1.5 M451,42.5 h-1.5 M507.6,94.4 v1.5 M451,41.1 h-1.5 M508.8,94.4 v1.5 M451,40.0 h-1.5 M509.8,94.4 v1.5 M451,39.1 h-1.5 M510.6,94.4 v1.5 M451,38.2 h-1.5 M511.4,94.4 v1.5 M451,37.5 h-1.5 M452.6,94.4 v2.4 M451,93.8 h-2.4 M467.5,94.4 v2.4 M451,79.6 h-2.4 M482.3,94.4 v2.4 M451,65.3 h-2.4 M497.2,94.4 v2.4 M451,51.1 h-2.4 M512.1,94.4 v2.4 M451,36.9 h-2.4" stroke="#111" stroke-width="0.6" fill="none"/>
<text class="ft" x="452.9" y="101.0">10<tspan dy="-1.7" font-size="3.3">0</tspan></text>
<text class="ft" transform="translate(447.6,93.5) rotate(-90)">10<tspan dy="-1.7" font-size="3.3">0</tspan></text>
<text class="ft" x="467.8" y="101.0">10<tspan dy="-1.7" font-size="3.3">1</tspan></text>
<text class="ft" transform="translate(447.6,79.3) rotate(-90)">10<tspan dy="-1.7" font-size="3.3">1</tspan></text>
<text class="ft" x="482.6" y="101.0">10<tspan dy="-1.7" font-size="3.3">2</tspan></text>
<text class="ft" transform="translate(447.6,65.0) rotate(-90)">10<tspan dy="-1.7" font-size="3.3">2</tspan></text>
<text class="ft" x="497.5" y="101.0">10<tspan dy="-1.7" font-size="3.3">3</tspan></text>
<text class="ft" transform="translate(447.6,50.8) rotate(-90)">10<tspan dy="-1.7" font-size="3.3">3</tspan></text>
<text class="ft" x="512.4" y="101.0">10<tspan dy="-1.7" font-size="3.3">4</tspan></text>
<text class="ft" transform="translate(447.6,36.6) rotate(-90)">10<tspan dy="-1.7" font-size="3.3">4</tspan></text>
<path d="M458.9,70.3h.95 M456.2,56.0h.95 M453.5,79.3h.95 M460.7,59.2h.95 M455.8,73.6h.95 M455.8,79.7h.95 M464.6,66.2h.95 M457.1,68.4h.95 M463.0,55.2h.95 M460.5,66.2h.95 M461.5,59.0h.95 M461.6,78.3h.95 M459.5,72.0h.95 M466.4,63.9h.95 M456.0,59.4h.95 M457.4,66.4h.95 M458.8,65.8h.95 M463.7,72.9h.95 M456.3,63.7h.95 M457.9,68.3h.95 M463.4,73.8h.95 M463.5,69.0h.95 M456.6,75.3h.95 M468.6,58.3h.95 M461.3,73.9h.95 M465.4,74.8h.95 M457.1,59.9h.95 M463.9,68.9h.95 M462.0,69.6h.95 M453.7,64.2h.95 M459.7,62.0h.95 M462.5,74.2h.95 M459.9,75.0h.95 M460.9,61.3h.95 M463.5,46.1h.95 M457.6,59.9h.95 M463.0,60.2h.95 M455.7,65.9h.95 M461.0,66.5h.95 M460.8,75.3h.95 M459.1,64.0h.95 M458.3,63.9h.95 M465.2,63.0h.95 M457.6,66.2h.95 M458.5,73.4h.95 M458.0,54.3h.95 M462.2,61.0h.95 M463.0,80.0h.95 M461.2,61.6h.95 M458.3,78.0h.95 M461.8,69.2h.95 M463.9,69.5h.95 M459.7,60.0h.95 M463.6,57.1h.95 M458.4,51.9h.95 M455.5,75.9h.95 M459.1,57.9h.95 M461.0,51.7h.95 M462.7,60.2h.95 M455.7,73.3h.95 M459.6,77.3h.95 M455.9,80.5h.95 M457.4,62.7h.95 M461.3,65.4h.95 M461.2,74.1h.95 M457.9,73.6h.95 M455.2,74.8h.95 M455.4,71.7h.95 M462.4,64.5h.95 M459.3,65.0h.95 M458.3,76.6h.95 M465.3,76.8h.95 M461.3,63.1h.95 M465.4,63.2h.95 M456.9,77.5h.95 M453.6,66.4h.95 M458.0,76.1h.95 M461.3,74.5h.95 M457.1,74.5h.95 M466.1,52.9h.95 M458.3,83.1h.95 M460.2,68.2h.95 M460.5,63.8h.95 M457.6,62.6h.95 M462.6,65.5h.95 M457.3,74.6h.95 M462.0,76.9h.95 M458.3,76.2h.95 M453.0,68.1h.95 M458.9,69.3h.95 M462.8,79.7h.95 M458.7,67.3h.95 M462.6,76.4h.95 M462.1,65.8h.95 M464.8,56.4h.95 M461.4,50.0h.95 M459.0,73.1h.95 M457.5,78.3h.95 M458.9,85.3h.95 M458.6,66.1h.95 M463.3,69.8h.95 M465.0,71.3h.95 M458.4,85.6h.95 M455.7,78.2h.95 M465.3,61.3h.95 M454.4,68.0h.95 M461.0,70.2h.95 M459.1,71.9h.95 M456.7,85.4h.95 M458.6,59.2h.95 M465.0,68.1h.95 M455.9,73.2h.95 M462.8,64.3h.95 M456.5,68.0h.95 M458.1,65.8h.95 M457.3,82.6h.95 M459.2,63.1h.95 M454.4,73.2h.95 M462.7,70.3h.95 M456.3,54.6h.95 M462.5,59.0h.95 M455.0,58.6h.95 M452.1,78.0h.95 M462.1,56.7h.95 M455.1,77.3h.95 M459.8,84.7h.95 M461.7,63.3h.95 M457.1,66.3h.95 M462.2,65.0h.95 M461.2,55.8h.95 M457.0,69.4h.95 M456.8,62.4h.95 M457.3,66.7h.95 M459.6,68.6h.95 M466.2,65.8h.95 M464.9,59.2h.95 M464.5,67.5h.95 M462.9,61.0h.95 M456.4,68.9h.95 M458.5,70.1h.95 M464.4,72.0h.95 M452.0,87.9h.95 M457.1,75.9h.95 M459.1,64.9h.95 M466.3,62.5h.95 M460.9,74.3h.95 M461.4,57.0h.95 M464.6,81.9h.95 M462.7,54.4h.95 M462.4,79.5h.95 M457.7,65.5h.95 M460.7,75.0h.95 M455.3,64.0h.95 M453.5,61.3h.95 M459.1,67.0h.95 M453.5,77.7h.95 M461.9,79.6h.95 M467.6,75.6h.95 M453.9,72.3h.95 M461.0,62.4h.95 M457.5,72.1h.95 M458.0,74.7h.95 M452.4,68.3h.95 M460.1,63.9h.95 M465.4,49.5h.95 M459.1,60.3h.95 M453.0,79.3h.95 M460.6,73.8h.95 M454.6,78.9h.95 M460.9,79.9h.95 M461.4,59.7h.95 M452.2,71.0h.95 M455.3,74.8h.95 M459.6,65.8h.95 M456.9,62.5h.95 M468.3,67.1h.95 M466.7,81.8h.95 M464.8,68.7h.95 M459.6,71.9h.95 M456.4,81.4h.95 M457.4,60.1h.95 M463.7,69.4h.95 M456.8,76.5h.95 M454.0,58.0h.95 M461.7,66.9h.95 M457.0,79.0h.95 M464.4,59.9h.95 M455.1,63.9h.95 M454.4,67.1h.95 M455.0,75.3h.95 M461.0,64.8h.95 M463.2,73.7h.95 M465.5,54.7h.95 M459.0,65.8h.95 M455.8,72.7h.95 M453.5,72.1h.95 M459.8,58.2h.95 M462.9,60.5h.95 M457.5,72.2h.95 M457.6,68.6h.95 M452.0,68.2h.95 M451.9,54.5h.95 M467.7,64.9h.95 M457.0,66.7h.95 M455.2,61.7h.95 M468.6,77.0h.95 M456.1,61.8h.95 M464.6,60.3h.95 M460.1,69.8h.95 M459.5,74.0h.95 M457.3,74.6h.95 M465.4,81.3h.95 M463.0,79.3h.95 M453.0,90.5h.95 M455.3,68.3h.95 M457.1,70.9h.95 M455.1,70.8h.95 M452.5,71.5h.95 M457.0,80.3h.95 M464.0,53.7h.95 M456.8,59.9h.95 M460.6,59.9h.95 M462.2,66.2h.95 M457.0,59.5h.95 M456.1,71.4h.95 M461.8,82.9h.95 M461.7,71.4h.95 M458.0,66.1h.95 M459.3,67.6h.95 M456.4,77.7h.95 M457.8,73.4h.95 M455.1,61.3h.95 M465.9,77.7h.95 M457.4,63.1h.95 M451.8,67.9h.95 M461.7,66.7h.95 M461.7,79.4h.95 M455.2,65.9h.95 M463.5,53.1h.95 M452.2,63.1h.95 M457.7,72.4h.95 M457.6,65.2h.95 M463.5,73.7h.95 M461.5,66.6h.95 M455.9,64.2h.95 M455.2,75.7h.95 M458.7,68.9h.95 M455.6,75.2h.95 M463.7,65.4h.95 M460.3,68.9h.95 M462.9,57.2h.95 M458.5,63.2h.95 M455.6,71.6h.95 M454.2,76.8h.95 M471.9,68.6h.95 M464.4,63.9h.95 M460.1,85.7h.95 M459.9,80.7h.95 M456.3,77.1h.95 M457.5,55.8h.95 M466.1,79.4h.95 M457.5,76.9h.95 M459.6,82.9h.95 M452.9,73.9h.95 M455.8,62.9h.95 M457.7,68.6h.95 M457.0,64.4h.95 M463.9,67.2h.95 M456.8,66.2h.95 M459.4,61.5h.95 M459.3,68.5h.95 M462.3,74.2h.95 M453.7,69.1h.95 M458.2,65.2h.95 M462.3,64.6h.95 M456.5,58.4h.95 M452.5,81.7h.95 M456.3,66.5h.95 M460.3,90.4h.95 M452.8,82.3h.95 M464.8,81.2h.95 M462.8,58.4h.95 M461.0,62.8h.95 M457.0,70.8h.95 M459.9,65.5h.95 M461.9,69.4h.95 M456.1,75.8h.95 M460.7,81.8h.95 M453.8,76.0h.95 M456.7,73.1h.95 M458.0,64.7h.95 M456.2,67.7h.95 M461.1,84.9h.95 M457.0,82.9h.95 M462.7,72.3h.95 M455.5,75.0h.95 M455.5,63.5h.95 M460.6,57.2h.95 M460.7,73.4h.95 M463.3,72.1h.95 M457.1,72.0h.95 M459.2,59.8h.95 M456.5,68.2h.95 M458.9,79.7h.95 M454.5,74.1h.95 M460.7,65.9h.95 M461.0,67.9h.95 M457.1,67.2h.95 M454.8,82.9h.95 M457.6,81.9h.95 M456.9,76.9h.95 M456.7,71.3h.95 M455.7,75.0h.95 M451.9,72.7h.95 M455.4,68.5h.95 M451.9,83.2h.95 M461.1,69.8h.95 M463.9,66.0h.95 M454.8,84.0h.95 M451.8,55.4h.95 M457.1,66.2h.95 M459.4,60.0h.95 M460.9,73.4h.95 M458.1,62.6h.95 M457.5,67.3h.95 M461.2,69.6h.95 M459.9,67.8h.95 M471.2,73.9h.95 M459.0,77.9h.95 M465.4,72.8h.95 M459.9,65.6h.95 M457.8,70.5h.95 M457.4,75.7h.95 M455.5,69.7h.95 M457.9,78.1h.95 M457.3,52.9h.95 M454.0,76.8h.95 M456.8,70.9h.95 M462.4,73.0h.95 M460.3,64.6h.95 M465.9,69.6h.95 M456.2,65.4h.95 M458.9,74.0h.95 M457.9,59.1h.95 M452.4,75.1h.95 M466.1,62.1h.95 M455.9,76.2h.95 M463.3,63.0h.95 M457.4,75.1h.95 M453.7,83.3h.95 M460.6,64.2h.95 M457.0,64.8h.95 M456.3,68.0h.95 M466.8,65.2h.95 M459.9,51.6h.95 M466.5,46.4h.95 M459.6,61.2h.95 M464.7,61.8h.95 M460.5,70.1h.95 M457.3,80.6h.95 M467.1,68.1h.95 M451.8,72.7h.95 M460.7,80.8h.95 M464.0,64.1h.95 M459.5,60.3h.95 M459.7,68.0h.95 M462.7,67.6h.95 M460.6,71.5h.95 M456.7,70.6h.95 M456.6,68.7h.95 M458.0,74.5h.95 M458.6,79.6h.95 M462.1,62.5h.95 M452.1,75.0h.95 M470.0,52.6h.95 M454.3,73.1h.95 M461.7,68.2h.95 M460.6,58.9h.95 M460.4,77.6h.95 M462.0,68.5h.95 M459.5,73.8h.95 M453.2,83.2h.95 M457.5,79.2h.95 M452.5,67.1h.95 M457.1,62.7h.95 M463.2,68.3h.95 M455.7,65.9h.95 M468.6,40.1h.95 M464.9,65.5h.95 M461.9,70.6h.95 M455.8,76.7h.95 M459.2,63.8h.95 M465.2,54.9h.95 M461.0,86.2h.95 M465.3,61.7h.95 M456.2,60.4h.95 M455.4,73.9h.95 M459.2,69.5h.95 M458.8,86.1h.95 M453.3,73.7h.95 M462.1,67.8h.95 M454.1,82.6h.95 M454.1,63.4h.95 M454.9,65.7h.95 M454.1,80.7h.95 M456.3,60.5h.95 M456.1,72.9h.95 M456.4,75.4h.95 M463.1,72.1h.95 M458.1,80.1h.95 M456.0,70.5h.95 M465.2,50.7h.95 M453.8,74.5h.95 M452.3,76.9h.95 M466.1,76.8h.95 M460.5,60.3h.95 M451.9,72.8h.95 M462.9,80.6h.95 M460.8,65.0h.95 M459.0,65.6h.95 M454.2,60.6h.95 M454.3,73.6h.95 M462.7,62.8h.95 M465.6,65.7h.95 M454.3,69.4h.95 M461.2,81.7h.95 M462.8,56.9h.95 M455.5,64.1h.95 M459.3,61.2h.95 M456.7,63.9h.95 M461.9,67.1h.95 M457.7,71.6h.95 M462.0,55.6h.95 M458.4,62.5h.95 M459.4,53.4h.95 M464.1,59.9h.95 M460.8,72.7h.95 M452.2,66.7h.95 M455.9,76.8h.95 M463.5,64.3h.95 M454.4,62.5h.95 M457.8,62.0h.95 M454.3,84.7h.95 M456.5,64.4h.95 M452.7,83.9h.95 M457.8,78.9h.95 M463.6,68.2h.95 M460.4,68.3h.95 M454.8,81.8h.95 M458.2,58.5h.95 M454.8,61.0h.95 M459.9,78.0h.95 M460.1,64.2h.95 M455.2,89.2h.95 M460.5,77.7h.95 M460.8,84.0h.95 M458.4,76.5h.95 M452.8,75.3h.95 M459.7,73.6h.95 M454.1,70.8h.95 M452.1,69.6h.95 M459.8,72.5h.95 M465.1,58.3h.95 M457.7,71.4h.95 M456.2,83.3h.95 M457.6,70.1h.95 M457.4,78.6h.95 M460.7,71.9h.95 M456.4,62.4h.95 M471.9,60.7h.95 M458.5,63.3h.95 M457.7,64.3h.95 M462.5,75.7h.95 M454.5,72.9h.95 M462.5,65.1h.95 M464.2,77.5h.95 M461.1,73.3h.95 M459.4,66.6h.95 M455.0,73.9h.95 M454.1,70.3h.95 M455.5,75.7h.95 M459.9,74.3h.95 M463.8,71.7h.95 M462.5,65.0h.95 M454.7,73.9h.95 M455.5,74.6h.95 M457.9,55.4h.95 M457.3,57.8h.95 M460.9,79.0h.95 M451.9,69.9h.95 M458.0,81.1h.95 M461.5,52.0h.95 M461.6,57.7h.95 M461.5,59.9h.95 M467.8,78.1h.95 M456.1,83.8h.95 M459.1,72.6h.95 M455.8,67.6h.95 M467.0,53.2h.95 M466.6,63.8h.95 M460.9,56.2h.95 M463.2,58.6h.95 M457.6,73.8h.95 M456.2,60.6h.95 M455.4,70.1h.95 M460.2,69.6h.95 M457.8,66.6h.95 M455.9,70.2h.95 M464.6,70.5h.95 M464.0,55.9h.95 M466.8,72.0h.95 M466.4,56.3h.95 M465.3,57.3h.95 M458.5,61.8h.95 M459.9,72.8h.95 M456.6,74.5h.95 M458.5,83.0h.95 M460.5,80.0h.95 M461.8,55.9h.95 M464.3,52.5h.95 M465.8,45.5h.95 M458.8,76.5h.95 M458.4,77.9h.95 M464.8,85.3h.95 M459.2,61.3h.95 M461.7,60.4h.95 M454.6,75.7h.95 M458.5,65.5h.95 M461.6,55.2h.95 M453.8,69.9h.95 M468.7,52.4h.95 M460.2,61.2h.95 M458.2,58.5h.95 M456.8,63.6h.95 M460.2,74.8h.95 M460.0,69.1h.95 M456.3,69.5h.95 M455.5,61.9h.95 M461.3,59.3h.95 M462.1,64.9h.95 M453.4,75.1h.95 M459.3,73.1h.95 M458.8,72.3h.95 M457.2,77.5h.95 M457.1,79.4h.95 M463.5,64.1h.95 M461.2,61.1h.95 M457.6,61.0h.95 M451.8,78.7h.95 M460.6,71.4h.95 M453.7,72.5h.95 M462.6,61.0h.95 M461.7,58.9h.95 M454.9,72.4h.95 M460.4,60.6h.95 M459.6,64.9h.95 M459.6,52.2h.95 M452.5,75.3h.95 M457.3,67.8h.95 M453.6,75.1h.95 M456.1,71.3h.95 M456.5,71.2h.95 M460.1,76.8h.95 M462.2,72.1h.95 M467.7,54.6h.95 M461.9,66.6h.95 M464.8,63.2h.95 M452.4,67.7h.95 M460.2,88.2h.95 M451.8,62.6h.95 M460.5,74.1h.95 M452.7,82.4h.95 M459.6,69.7h.95 M463.1,70.1h.95 M457.5,68.5h.95 M459.2,55.7h.95 M457.9,74.5h.95 M457.7,66.5h.95 M460.0,63.3h.95 M453.3,53.0h.95 M466.6,65.1h.95 M454.0,71.3h.95 M460.7,86.5h.95 M459.1,81.4h.95 M460.9,57.2h.95 M463.3,79.0h.95 M464.7,58.7h.95 M457.5,66.4h.95 M465.3,68.3h.95 M458.9,74.1h.95 M463.8,84.0h.95 M464.9,73.7h.95 M462.8,80.3h.95 M455.1,76.7h.95 M462.4,80.5h.95 M461.5,73.1h.95 M464.1,68.9h.95 M461.0,69.7h.95 M466.4,67.9h.95 M458.9,53.5h.95 M459.3,63.8h.95 M455.9,69.8h.95 M457.9,78.3h.95 M460.6,83.1h.95 M454.8,90.3h.95 M461.0,75.9h.95 M464.3,59.9h.95 M461.0,74.8h.95 M452.2,82.6h.95 M459.1,70.2h.95 M458.2,69.9h.95 M465.0,56.0h.95 M453.9,67.0h.95 M455.3,69.8h.95 M459.9,61.3h.95 M462.3,77.1h.95 M458.5,66.3h.95 M458.1,57.1h.95 M453.1,68.7h.95 M459.8,73.0h.95 M458.5,72.0h.95 M460.2,73.6h.95 M457.5,49.5h.95 M457.0,66.2h.95 M463.5,74.1h.95 M462.4,72.6h.95 M452.2,76.1h.95 M458.8,67.2h.95 M456.8,71.1h.95 M459.0,60.4h.95 M468.2,78.5h.95 M461.2,68.2h.95 M463.0,58.5h.95 M462.2,61.0h.95 M455.1,85.7h.95 M465.9,55.5h.95 M455.1,61.5h.95 M461.8,87.6h.95 M462.7,75.2h.95 M463.8,72.0h.95 M455.9,83.9h.95 M458.1,61.8h.95 M456.2,86.2h.95 M467.9,49.1h.95 M461.9,72.1h.95 M454.0,85.8h.95 M461.3,57.6h.95 M454.6,72.2h.95 M457.9,72.3h.95 M461.1,51.3h.95 M456.4,64.2h.95 M463.5,69.0h.95 M458.4,80.7h.95 M463.5,71.1h.95 M456.3,70.6h.95 M455.4,80.1h.95 M457.8,58.2h.95 M458.1,65.8h.95 M452.9,89.0h.95 M466.5,68.1h.95 M452.6,74.3h.95 M461.5,81.9h.95 M455.3,69.6h.95 M455.2,65.4h.95 M463.0,63.5h.95 M457.2,71.0h.95 M456.4,72.2h.95 M460.3,71.1h.95 M463.0,46.0h.95 M456.7,68.1h.95 M462.4,62.2h.95 M458.0,74.0h.95 M463.2,61.9h.95 M461.1,74.7h.95 M461.6,61.4h.95 M458.2,64.7h.95 M468.0,79.2h.95 M461.5,77.4h.95 M453.3,74.9h.95 M461.3,67.7h.95 M454.2,84.1h.95 M456.7,70.8h.95 M455.5,83.8h.95 M466.3,71.8h.95 M458.3,74.4h.95 M456.6,70.7h.95 M457.8,65.2h.95 M454.1,84.6h.95 M467.1,65.1h.95 M462.2,58.0h.95 M461.3,67.8h.95 M452.5,86.5h.95 M463.1,61.5h.95 M461.4,81.5h.95 M454.1,88.2h.95 M465.3,66.0h.95 M455.1,83.8h.95 M463.9,69.7h.95 M461.2,61.0h.95 M455.2,84.2h.95 M458.2,66.4h.95 M457.7,72.0h.95 M460.3,77.1h.95 M461.6,60.4h.95 M453.9,80.2h.95 M456.9,76.8h.95 M457.5,62.1h.95 M452.7,70.8h.95 M456.9,77.4h.95 M452.7,91.3h.95 M459.0,58.4h.95 M454.8,66.8h.95 M453.4,69.7h.95 M457.4,74.2h.95 M452.6,78.6h.95 M456.8,60.5h.95 M461.4,65.0h.95 M455.9,70.0h.95 M462.0,57.2h.95 M462.6,52.4h.95 M457.8,78.5h.95 M464.1,51.9h.95 M462.6,67.6h.95 M459.3,72.5h.95 M457.3,71.0h.95 M460.5,78.7h.95 M460.8,67.5h.95 M457.9,68.3h.95 M457.2,68.7h.95 M465.0,69.9h.95 M462.3,72.9h.95 M457.7,68.7h.95 M456.2,63.1h.95 M452.4,75.6h.95 M458.8,69.3h.95 M458.0,78.9h.95 M458.9,58.7h.95 M461.3,69.8h.95 M453.4,81.1h.95 M462.0,72.7h.95 M457.4,51.8h.95 M453.2,68.8h.95 M460.6,68.8h.95 M456.7,70.3h.95 M452.8,69.7h.95 M457.8,79.2h.95 M457.5,65.9h.95 M456.1,67.3h.95 M461.4,55.2h.95 M454.4,73.2h.95 M461.2,55.8h.95 M460.1,62.6h.95 M452.8,78.1h.95 M466.0,67.5h.95 M468.2,69.9h.95 M457.8,83.4h.95 M461.7,65.7h.95 M467.6,62.9h.95 M457.9,81.8h.95 M458.7,61.9h.95 M473.8,54.5h.95 M474.8,60.9h.95 M472.8,60.5h.95 M457.5,57.5h.95 M471.0,67.6h.95 M471.0,60.4h.95 M475.9,52.7h.95 M470.5,68.0h.95 M469.8,64.9h.95 M476.0,55.9h.95 M462.5,65.0h.95 M468.0,61.9h.95 M478.6,64.0h.95 M489.1,60.9h.95 M456.0,63.7h.95 M457.1,60.2h.95 M470.3,64.6h.95 M473.5,60.8h.95 M461.3,67.9h.95 M483.0,57.3h.95 M470.0,68.2h.95 M484.2,54.5h.95 M465.0,64.5h.95 M463.0,58.0h.95 M474.9,64.7h.95 M464.5,67.0h.95 M468.7,51.1h.95 M465.2,62.2h.95 M464.5,65.7h.95 M470.7,56.5h.95 M458.2,70.2h.95 M465.7,69.3h.95 M479.7,55.5h.95 M476.5,58.1h.95 M458.3,61.6h.95 M466.7,67.3h.95 M460.8,72.1h.95 M463.6,63.9h.95 M477.1,63.8h.95 M473.5,59.6h.95 M473.7,61.4h.95 M457.0,60.8h.95 M473.1,68.1h.95 M467.9,64.5h.95 M486.2,48.7h.95 M468.7,64.2h.95 M473.7,59.9h.95 M473.1,62.9h.95 M459.3,76.8h.95 M456.4,76.1h.95 M467.6,60.0h.95 M481.4,57.5h.95 M485.1,48.5h.95 M466.7,66.8h.95 M469.7,65.4h.95 M464.2,64.5h.95 M471.9,72.6h.95 M468.5,63.0h.95 M474.1,66.4h.95 M472.1,67.3h.95 M460.2,70.6h.95 M469.0,64.7h.95 M477.5,57.6h.95 M466.0,58.5h.95 M481.2,58.1h.95 M482.9,56.5h.95 M471.3,67.4h.95 M476.3,54.8h.95 M470.3,56.8h.95 M484.8,47.9h.95 M460.9,66.8h.95 M478.8,54.5h.95 M477.1,68.4h.95 M474.2,57.9h.95 M463.6,55.9h.95 M474.5,54.9h.95 M481.6,59.7h.95 M471.2,61.8h.95 M477.3,54.5h.95 M460.1,69.4h.95 M460.1,64.1h.95 M459.1,71.0h.95 M479.2,63.6h.95 M473.1,72.6h.95 M474.6,68.0h.95 M479.9,57.4h.95 M473.0,65.9h.95 M471.6,64.1h.95 M476.1,62.3h.95 M466.4,67.5h.95 M465.7,59.1h.95 M466.4,61.4h.95 M480.3,62.6h.95 M481.3,73.2h.95 M468.1,67.3h.95 M468.0,57.5h.95 M473.7,60.6h.95 M481.6,66.3h.95 M461.5,57.1h.95 M470.6,73.2h.95 M470.7,68.4h.95 M479.8,52.9h.95 M463.6,57.5h.95 M461.3,60.3h.95 M472.6,62.1h.95 M456.6,68.3h.95 M452.6,72.2h.95 M461.7,62.9h.95 M467.3,62.2h.95 M474.4,60.1h.95 M467.3,63.8h.95 M480.7,55.4h.95 M467.7,70.7h.95 M472.6,64.7h.95 M455.7,67.1h.95 M462.0,65.1h.95 M469.9,63.7h.95 M462.9,65.6h.95 M488.6,60.5h.95 M459.6,69.9h.95 M459.0,67.6h.95 M461.6,63.3h.95 M469.2,57.6h.95 M468.7,61.1h.95 M471.1,76.1h.95 M468.8,64.4h.95 M462.1,64.6h.95 M463.0,61.0h.95 M472.0,68.5h.95 M474.6,68.9h.95 M472.4,51.2h.95 M478.4,65.0h.95 M480.6,48.9h.95 M470.9,60.5h.95 M483.5,55.1h.95 M456.7,66.9h.95 M469.1,58.3h.95 M484.1,53.3h.95 M477.8,66.4h.95 M461.9,63.8h.95 M472.0,49.1h.95 M481.1,64.4h.95 M475.8,63.8h.95 M465.6,63.0h.95 M468.5,61.1h.95 M464.6,59.2h.95 M466.3,64.1h.95 M463.7,63.5h.95 M462.1,69.3h.95 M475.3,57.5h.95 M471.9,60.4h.95 M461.7,71.8h.95 M477.3,59.3h.95 M473.2,60.2h.95 M475.7,65.5h.95 M476.6,70.8h.95 M470.8,54.5h.95 M471.7,59.7h.95 M463.0,59.0h.95 M469.6,58.0h.95 M473.9,61.6h.95 M464.6,59.6h.95 M474.2,59.1h.95 M473.1,63.8h.95 M469.5,57.9h.95 M471.1,74.3h.95 M471.6,63.7h.95 M467.0,61.8h.95 M481.0,68.6h.95 M461.8,54.8h.95 M464.3,54.3h.95 M480.2,62.8h.95 M467.1,58.2h.95 M482.1,57.7h.95 M471.2,63.1h.95 M486.1,65.3h.95 M471.2,56.7h.95 M472.0,63.2h.95 M472.9,64.0h.95 M461.5,53.9h.95 M483.7,61.0h.95 M468.6,55.0h.95 M468.8,63.9h.95 M467.8,71.7h.95 M470.4,66.0h.95 M466.6,70.8h.95 M468.1,64.7h.95 M464.4,60.0h.95 M453.0,69.8h.95 M472.1,63.5h.95 M469.6,55.3h.95 M470.7,63.4h.95 M468.4,61.4h.95 M463.9,63.3h.95 M472.8,53.1h.95 M451.8,74.9h.95 M466.8,59.7h.95 M466.1,70.0h.95 M469.4,56.6h.95 M465.0,56.5h.95 M467.4,61.1h.95 M482.8,51.7h.95 M498.1,56.5h.95 M469.5,57.9h.95 M466.3,67.7h.95 M472.0,62.2h.95 M466.5,65.7h.95 M471.4,61.8h.95 M467.9,66.3h.95 M464.1,70.9h.95 M470.9,62.7h.95 M463.8,64.3h.95 M472.0,58.7h.95 M466.9,59.1h.95 M475.4,70.3h.95 M459.8,62.1h.95 M470.0,58.8h.95 M477.2,65.1h.95 M470.4,56.2h.95 M460.4,57.0h.95 M452.6,69.7h.95 M487.0,58.1h.95 M469.4,60.4h.95 M466.1,59.2h.95 M468.7,66.1h.95 M488.3,52.3h.95 M461.9,75.3h.95 M465.1,61.2h.95 M457.1,69.3h.95 M467.7,62.8h.95 M479.7,67.3h.95 M460.6,54.5h.95 M455.8,66.4h.95 M471.0,56.4h.95 M461.8,61.7h.95 M479.2,59.4h.95 M473.9,65.4h.95 M475.3,61.5h.95 M465.2,64.4h.95 M456.8,74.6h.95 M470.1,62.1h.95 M466.9,71.3h.95 M469.9,64.3h.95 M456.8,61.0h.95 M486.3,56.0h.95 M462.3,77.1h.95 M476.5,58.7h.95 M475.9,49.2h.95 M463.9,63.4h.95 M481.0,63.7h.95 M477.1,59.6h.95 M463.8,63.8h.95 M473.5,61.3h.95 M470.1,58.7h.95 M474.2,62.8h.95 M469.5,73.6h.95 M458.5,70.6h.95 M464.5,65.8h.95 M459.8,63.0h.95 M476.2,52.2h.95 M469.3,59.8h.95 M474.5,51.9h.95 M464.8,60.1h.95 M458.1,71.9h.95 M458.6,62.7h.95 M466.9,62.9h.95 M461.3,65.6h.95 M482.8,66.4h.95 M458.8,61.1h.95 M460.5,65.2h.95 M469.3,71.0h.95 M465.2,64.2h.95 M471.0,58.7h.95 M468.1,63.1h.95 M467.3,62.7h.95 M474.2,64.7h.95 M468.5,59.9h.95 M467.1,66.6h.95 M476.4,62.6h.95 M475.5,64.6h.95 M468.8,60.6h.95 M469.1,61.4h.95 M471.0,67.9h.95 M459.3,66.7h.95 M482.1,58.9h.95 M460.7,68.9h.95 M468.3,56.7h.95 M463.6,61.6h.95 M469.5,64.4h.95 M460.6,66.3h.95" stroke="#000" stroke-width="0.95" fill="none"/>
<text id="t37" class="nm" style="text-anchor:start" transform="translate(492.9,48.8) scale(1.0320,1)">2.6</text>
<text id="t38" class="tt" style="text-anchor:start" transform="translate(464.3,25.9) scale(1.0799,1)">αDEC-OVA</text>
<text id="t39" class="tt" style="text-anchor:start" transform="translate(461.2,33.4) scale(1.0636,1)">CD25 depleted</text>
<rect class="fr" x="362.2" y="120.4" width="64.8" height="58.7"/>
<path d="M362.09999999999997,120.4 V179.1" stroke="#000" stroke-width="1.15" fill="none"/><path d="M361.4,179.1 H427" stroke="#000" stroke-width="1.3" fill="none"/>
<path class="th" d="M378.3,120.4 V179.1 M362.2,162.2 H427"/>
<path d="M368.4,179.1 v1.5 M362.2,174.2 h-1.5 M371.1,179.1 v1.5 M362.2,171.6 h-1.5 M373.0,179.1 v1.5 M362.2,169.8 h-1.5 M374.5,179.1 v1.5 M362.2,168.4 h-1.5 M375.7,179.1 v1.5 M362.2,167.3 h-1.5 M376.7,179.1 v1.5 M362.2,166.3 h-1.5 M377.6,179.1 v1.5 M362.2,165.5 h-1.5 M378.4,179.1 v1.5 M362.2,164.8 h-1.5 M383.7,179.1 v1.5 M362.2,159.8 h-1.5 M386.4,179.1 v1.5 M362.2,157.3 h-1.5 M388.3,179.1 v1.5 M362.2,155.5 h-1.5 M389.8,179.1 v1.5 M362.2,154.1 h-1.5 M391.0,179.1 v1.5 M362.2,152.9 h-1.5 M392.0,179.1 v1.5 M362.2,152.0 h-1.5 M392.9,179.1 v1.5 M362.2,151.1 h-1.5 M393.7,179.1 v1.5 M362.2,150.4 h-1.5 M399.0,179.1 v1.5 M362.2,145.4 h-1.5 M401.7,179.1 v1.5 M362.2,142.9 h-1.5 M403.6,179.1 v1.5 M362.2,141.1 h-1.5 M405.1,179.1 v1.5 M362.2,139.7 h-1.5 M406.3,179.1 v1.5 M362.2,138.5 h-1.5 M407.3,179.1 v1.5 M362.2,137.6 h-1.5 M408.2,179.1 v1.5 M362.2,136.7 h-1.5 M409.0,179.1 v1.5 M362.2,136.0 h-1.5 M414.3,179.1 v1.5 M362.2,131.0 h-1.5 M417.0,179.1 v1.5 M362.2,128.5 h-1.5 M418.9,179.1 v1.5 M362.2,126.7 h-1.5 M420.4,179.1 v1.5 M362.2,125.3 h-1.5 M421.6,179.1 v1.5 M362.2,124.2 h-1.5 M422.6,179.1 v1.5 M362.2,123.2 h-1.5 M423.5,179.1 v1.5 M362.2,122.4 h-1.5 M424.3,179.1 v1.5 M362.2,121.6 h-1.5 M363.8,179.1 v2.4 M362.2,178.5 h-2.4 M379.1,179.1 v2.4 M362.2,164.1 h-2.4 M394.4,179.1 v2.4 M362.2,149.7 h-2.4 M409.7,179.1 v2.4 M362.2,135.4 h-2.4 M425.0,179.1 v2.4 M362.2,121.0 h-2.4" stroke="#111" stroke-width="0.6" fill="none"/>
<text class="ft" x="364.1" y="185.7">10<tspan dy="-1.7" font-size="3.3">0</tspan></text>
<text class="ft" transform="translate(358.8,178.2) rotate(-90)">10<tspan dy="-1.7" font-size="3.3">0</tspan></text>
<text class="ft" x="379.4" y="185.7">10<tspan dy="-1.7" font-size="3.3">1</tspan></text>
<text class="ft" transform="translate(358.8,163.8) rotate(-90)">10<tspan dy="-1.7" font-size="3.3">1</tspan></text>
<text class="ft" x="394.7" y="185.7">10<tspan dy="-1.7" font-size="3.3">2</tspan></text>
<text class="ft" transform="translate(358.8,149.4) rotate(-90)">10<tspan dy="-1.7" font-size="3.3">2</tspan></text>
<text class="ft" x="410.0" y="185.7">10<tspan dy="-1.7" font-size="3.3">3</tspan></text>
<text class="ft" transform="translate(358.8,135.1) rotate(-90)">10<tspan dy="-1.7" font-size="3.3">3</tspan></text>
<text class="ft" x="425.3" y="185.7">10<tspan dy="-1.7" font-size="3.3">4</tspan></text>
<text class="ft" transform="translate(358.8,120.7) rotate(-90)">10<tspan dy="-1.7" font-size="3.3">4</tspan></text>
<path d="M368.9,155.3h.95 M364.0,152.0h.95 M375.9,152.3h.95 M379.3,150.7h.95 M364.3,161.4h.95 M374.4,164.1h.95 M367.0,157.0h.95 M374.7,161.7h.95 M371.2,163.7h.95 M369.6,160.3h.95 M377.3,171.2h.95 M370.7,145.1h.95 M373.8,156.9h.95 M376.2,166.2h.95 M366.6,175.7h.95 M365.5,159.2h.95 M376.3,161.0h.95 M369.1,156.4h.95 M375.2,155.4h.95 M363.4,167.1h.95 M363.5,161.2h.95 M372.0,161.9h.95 M370.7,161.9h.95 M377.8,153.4h.95 M378.8,139.1h.95 M376.1,164.4h.95 M373.1,154.1h.95 M366.5,161.5h.95 M367.3,149.7h.95 M364.1,164.8h.95 M373.7,156.1h.95 M368.1,153.6h.95 M372.2,145.3h.95 M373.0,150.7h.95 M364.8,159.6h.95 M372.9,167.3h.95 M370.6,162.4h.95 M365.7,157.8h.95 M372.1,156.4h.95 M382.8,157.1h.95 M376.0,150.0h.95 M369.3,165.2h.95 M379.6,149.6h.95 M373.0,168.2h.95 M376.4,152.5h.95 M382.6,141.8h.95 M376.1,155.0h.95 M372.6,163.6h.95 M373.7,156.1h.95 M375.3,148.0h.95 M373.8,163.0h.95 M376.1,143.6h.95 M368.4,156.6h.95 M374.9,153.1h.95 M374.7,158.7h.95 M371.8,144.0h.95 M380.4,168.1h.95 M371.0,149.4h.95 M370.6,173.9h.95 M374.5,153.6h.95 M374.5,159.1h.95 M374.0,165.8h.95 M372.3,151.8h.95 M363.3,159.0h.95 M369.0,153.1h.95 M379.3,159.3h.95 M374.9,172.5h.95 M376.7,149.3h.95 M367.5,145.2h.95 M372.8,173.9h.95 M365.9,153.5h.95 M371.0,149.5h.95 M365.1,162.5h.95 M376.9,163.0h.95 M375.5,160.7h.95 M373.9,155.3h.95 M382.7,165.7h.95 M375.9,145.8h.95 M367.1,160.1h.95 M383.1,145.3h.95 M364.3,162.2h.95 M379.3,168.8h.95 M378.6,148.8h.95 M376.7,165.8h.95 M379.9,165.7h.95 M379.9,145.0h.95 M364.2,148.1h.95 M381.0,155.9h.95 M365.1,163.2h.95 M371.1,151.4h.95 M367.9,168.5h.95 M373.5,155.1h.95 M364.1,157.7h.95 M369.9,163.5h.95 M375.4,151.1h.95 M374.8,141.8h.95 M373.7,157.8h.95 M374.1,144.4h.95 M375.6,154.3h.95 M377.4,170.2h.95 M377.3,149.3h.95 M371.1,172.3h.95 M364.8,175.3h.95 M374.2,158.9h.95 M368.2,152.0h.95 M367.8,151.0h.95 M376.2,152.0h.95 M367.2,170.2h.95 M372.8,148.7h.95 M367.5,158.4h.95 M376.7,172.1h.95 M381.5,156.8h.95 M370.0,157.6h.95 M371.6,167.2h.95 M369.5,161.8h.95 M367.3,151.4h.95 M375.5,150.7h.95 M364.6,165.8h.95 M375.0,158.3h.95 M363.7,158.5h.95 M382.1,145.3h.95 M372.1,169.4h.95 M377.4,151.3h.95 M370.9,161.9h.95 M376.4,157.9h.95 M369.2,170.3h.95 M370.7,161.9h.95 M366.5,176.1h.95 M369.1,151.9h.95 M381.9,169.7h.95 M369.7,153.9h.95 M369.0,154.6h.95 M370.8,148.7h.95 M373.1,142.7h.95 M366.2,150.7h.95 M370.7,148.8h.95 M369.8,151.8h.95 M377.6,153.6h.95 M367.5,166.3h.95 M370.1,161.2h.95 M377.2,167.1h.95 M371.9,158.2h.95 M372.6,166.5h.95 M378.7,156.4h.95 M368.8,160.6h.95 M378.1,151.0h.95 M378.1,151.5h.95 M370.5,172.0h.95 M368.4,160.4h.95 M364.7,163.5h.95 M368.6,149.3h.95 M363.0,141.7h.95 M376.0,161.0h.95 M373.0,143.8h.95 M375.9,159.6h.95 M369.9,172.3h.95 M374.0,149.9h.95 M372.2,158.1h.95 M368.7,158.5h.95 M375.0,168.4h.95 M375.9,159.2h.95 M375.0,157.0h.95 M374.3,155.3h.95 M376.2,163.1h.95 M372.2,168.6h.95 M373.0,148.2h.95 M371.4,149.5h.95 M370.5,155.6h.95 M378.4,153.0h.95 M374.6,145.2h.95 M375.6,148.5h.95 M371.3,165.0h.95 M376.3,165.6h.95 M378.2,160.6h.95 M374.0,150.3h.95 M367.6,142.9h.95 M372.7,159.8h.95 M367.9,174.6h.95 M364.4,169.8h.95 M375.3,161.1h.95 M378.1,164.3h.95 M365.6,156.5h.95 M371.5,171.0h.95 M379.3,153.0h.95 M366.1,164.9h.95 M368.4,149.5h.95 M370.2,164.3h.95 M374.1,143.6h.95 M379.1,155.5h.95 M371.2,163.8h.95 M377.2,165.6h.95 M372.4,152.1h.95 M369.6,175.8h.95 M370.1,166.3h.95 M368.1,164.9h.95 M376.4,169.6h.95 M367.0,161.5h.95 M376.9,163.6h.95 M375.3,148.0h.95 M369.2,161.3h.95 M376.6,154.8h.95 M369.7,160.5h.95 M371.4,158.0h.95 M373.9,156.4h.95 M369.8,159.4h.95 M373.9,159.5h.95 M380.1,159.5h.95 M370.3,142.0h.95 M378.1,162.0h.95 M373.6,158.5h.95 M373.7,158.0h.95 M365.8,158.8h.95 M372.1,154.5h.95 M373.2,144.3h.95 M373.3,161.4h.95 M370.6,156.4h.95 M374.9,168.3h.95 M367.8,152.1h.95 M371.4,149.5h.95 M371.6,164.5h.95 M374.6,155.2h.95 M385.2,139.5h.95 M372.1,156.3h.95 M375.0,152.9h.95 M375.9,157.6h.95 M370.6,173.0h.95 M370.9,149.7h.95 M373.4,155.3h.95 M366.2,177.1h.95 M375.3,164.3h.95 M369.7,177.1h.95 M379.3,143.3h.95 M364.1,166.7h.95 M371.3,155.1h.95 M376.5,157.5h.95 M371.9,153.8h.95 M364.3,162.9h.95 M372.3,156.0h.95 M367.6,166.4h.95 M366.8,162.2h.95 M367.4,138.7h.95 M369.3,148.6h.95 M369.4,163.5h.95 M376.6,159.5h.95 M382.6,150.6h.95 M364.1,149.9h.95 M368.4,161.3h.95 M378.9,146.5h.95 M380.3,163.0h.95 M372.6,155.3h.95 M371.4,145.3h.95 M368.9,151.0h.95 M378.8,174.1h.95 M367.6,168.8h.95 M369.7,156.3h.95 M371.5,158.4h.95 M370.1,160.4h.95 M374.6,151.1h.95 M368.5,161.3h.95 M368.6,161.8h.95 M365.4,152.8h.95 M375.5,158.7h.95 M369.0,164.2h.95 M369.1,174.1h.95 M380.1,125.8h.95 M366.4,171.7h.95 M375.1,152.2h.95 M364.7,177.0h.95 M374.9,175.9h.95 M379.1,160.7h.95 M372.7,158.7h.95 M369.6,161.1h.95 M370.9,148.0h.95 M371.9,159.3h.95 M369.8,165.6h.95 M368.8,160.1h.95 M381.1,145.2h.95 M373.4,143.2h.95 M377.2,155.0h.95 M371.5,169.1h.95 M373.5,161.2h.95 M364.7,173.5h.95 M381.6,153.2h.95 M374.7,156.1h.95 M370.1,155.5h.95 M377.5,159.6h.95 M374.8,148.5h.95 M370.0,158.2h.95 M368.7,154.7h.95 M370.5,149.0h.95 M368.6,144.8h.95 M370.8,167.0h.95 M368.0,154.4h.95 M368.2,143.9h.95 M378.5,151.7h.95 M365.5,161.7h.95 M368.8,176.7h.95 M374.3,137.9h.95 M369.7,152.4h.95 M378.5,165.2h.95 M370.7,157.0h.95 M374.6,168.4h.95 M373.3,159.4h.95 M376.9,171.6h.95 M369.6,164.4h.95 M370.8,152.8h.95 M369.3,135.0h.95 M368.9,152.5h.95 M377.2,148.1h.95 M371.3,166.7h.95 M371.1,153.2h.95 M372.9,153.3h.95 M375.1,165.8h.95 M367.8,147.4h.95 M370.0,174.1h.95 M381.2,162.9h.95 M367.8,151.7h.95 M366.9,168.8h.95 M377.3,164.3h.95 M384.3,153.2h.95 M385.2,152.6h.95 M372.6,164.5h.95 M371.2,163.8h.95 M372.2,151.8h.95 M366.2,169.5h.95 M371.9,156.0h.95 M372.3,175.9h.95 M377.9,161.2h.95 M378.0,147.1h.95 M372.6,148.7h.95 M368.6,159.6h.95 M371.6,157.4h.95 M375.2,155.6h.95 M370.4,153.0h.95 M370.7,151.4h.95 M368.4,170.9h.95 M383.5,166.1h.95 M376.5,141.5h.95 M376.0,153.0h.95 M372.0,159.1h.95 M368.5,155.1h.95 M376.0,169.3h.95 M371.7,162.1h.95 M370.0,161.4h.95 M366.3,173.5h.95 M380.3,155.9h.95 M375.0,154.9h.95 M374.6,171.8h.95 M367.7,154.8h.95 M377.1,167.4h.95 M369.5,169.6h.95 M375.4,154.4h.95 M372.5,164.7h.95 M373.9,157.9h.95 M368.7,157.1h.95 M369.1,151.4h.95 M375.3,163.9h.95 M375.1,157.1h.95 M368.9,168.4h.95 M364.3,172.2h.95 M374.0,147.2h.95 M369.3,158.5h.95 M374.0,151.0h.95 M374.4,146.8h.95 M376.0,164.3h.95 M374.2,176.8h.95 M371.4,158.9h.95 M375.1,160.5h.95 M376.3,145.2h.95 M368.3,165.3h.95 M373.6,153.8h.95 M373.0,151.0h.95 M366.6,153.9h.95 M377.9,146.5h.95 M374.3,160.2h.95 M374.2,158.7h.95 M364.7,167.3h.95 M372.1,163.6h.95 M367.8,162.6h.95 M370.5,158.9h.95 M372.1,157.3h.95 M377.1,155.7h.95 M374.3,169.2h.95 M375.6,156.0h.95 M377.1,160.6h.95 M367.6,158.7h.95 M373.8,171.2h.95 M368.4,156.7h.95 M371.2,169.8h.95 M372.2,154.2h.95 M379.0,172.8h.95 M372.5,164.2h.95 M383.1,150.5h.95 M367.3,154.1h.95 M376.6,147.5h.95 M377.5,160.7h.95 M366.3,158.4h.95 M372.1,162.4h.95 M363.9,156.0h.95 M375.1,146.4h.95 M374.4,159.4h.95 M367.9,163.4h.95 M368.0,162.2h.95 M368.5,150.6h.95 M371.6,155.1h.95 M372.3,161.5h.95 M370.2,160.6h.95 M370.0,169.6h.95 M377.2,154.2h.95 M372.3,170.0h.95 M380.1,147.8h.95 M372.2,145.4h.95 M367.7,152.5h.95 M367.5,147.8h.95 M371.0,148.2h.95 M370.3,155.9h.95 M377.8,164.9h.95 M372.8,166.3h.95 M376.4,162.7h.95 M370.5,161.3h.95 M377.9,166.1h.95 M372.2,161.8h.95 M369.7,167.0h.95 M371.5,157.3h.95 M364.9,159.5h.95 M366.6,160.9h.95 M383.2,163.4h.95 M372.0,161.2h.95 M377.0,161.3h.95 M363.7,176.8h.95 M373.2,156.2h.95 M377.4,161.7h.95 M375.5,167.3h.95 M378.5,157.0h.95 M369.0,158.4h.95 M380.7,163.3h.95 M366.3,170.4h.95 M366.8,161.4h.95 M374.0,159.6h.95 M373.2,147.6h.95 M370.9,170.8h.95 M363.4,160.8h.95 M378.9,146.0h.95 M371.9,169.5h.95 M369.7,154.5h.95 M364.8,160.6h.95 M379.7,166.8h.95 M375.8,164.7h.95 M368.6,156.5h.95 M375.3,158.6h.95 M374.4,151.8h.95 M380.6,164.0h.95 M367.7,145.1h.95 M376.2,163.4h.95 M375.2,143.0h.95 M370.6,156.2h.95 M376.5,162.8h.95 M367.1,153.4h.95 M372.3,157.0h.95 M368.7,154.5h.95 M376.9,156.4h.95 M372.6,166.9h.95 M369.4,171.4h.95 M372.7,156.9h.95 M369.3,171.1h.95 M371.4,153.3h.95 M378.8,172.0h.95 M373.0,146.5h.95 M368.5,163.9h.95 M376.4,155.4h.95 M368.3,170.1h.95 M369.9,160.0h.95 M373.3,150.8h.95 M368.4,156.0h.95 M374.2,160.7h.95 M375.8,158.0h.95 M374.5,163.3h.95 M368.3,165.0h.95 M380.6,151.7h.95 M373.7,165.0h.95 M373.2,168.7h.95 M373.9,158.4h.95 M369.8,155.3h.95 M366.4,172.3h.95 M375.6,167.1h.95 M365.8,150.7h.95 M375.2,153.3h.95 M372.4,168.6h.95 M374.4,158.2h.95 M369.1,158.6h.95 M374.4,157.9h.95 M376.2,152.6h.95 M367.1,156.4h.95 M370.5,145.8h.95 M363.7,166.6h.95 M371.9,171.5h.95 M379.2,151.4h.95 M381.8,160.3h.95 M375.7,166.3h.95 M368.2,161.2h.95 M374.3,149.6h.95 M371.0,149.3h.95 M376.9,165.0h.95 M371.4,167.5h.95 M380.5,160.6h.95 M376.5,148.9h.95 M371.1,163.7h.95 M373.9,165.2h.95 M366.2,169.9h.95 M373.9,156.4h.95 M380.7,172.1h.95 M374.7,168.3h.95 M377.8,150.3h.95 M372.9,145.2h.95 M370.5,164.3h.95 M367.3,166.7h.95 M372.9,152.5h.95 M378.4,158.9h.95 M368.8,163.2h.95 M370.3,163.8h.95 M370.4,167.4h.95 M372.1,163.5h.95 M371.5,171.7h.95 M373.0,153.3h.95 M375.4,162.6h.95 M366.9,172.7h.95 M366.7,166.8h.95 M370.8,175.4h.95 M375.5,171.5h.95 M369.0,166.6h.95 M376.2,140.6h.95 M370.6,161.9h.95 M370.4,161.3h.95 M371.5,136.8h.95 M367.1,161.8h.95 M368.5,157.0h.95 M369.8,154.6h.95 M367.2,141.7h.95 M373.3,174.4h.95 M375.6,161.7h.95 M366.8,156.9h.95 M369.8,153.1h.95 M369.7,151.7h.95 M373.0,155.3h.95 M373.0,161.8h.95 M370.6,155.4h.95 M375.7,161.2h.95 M382.9,139.4h.95 M366.9,151.1h.95 M372.0,156.8h.95 M368.6,145.4h.95 M368.4,161.0h.95 M368.9,142.7h.95 M378.2,168.4h.95 M370.2,156.3h.95 M370.3,162.8h.95 M367.2,158.5h.95 M367.1,153.3h.95 M383.6,157.3h.95 M380.1,152.4h.95 M369.1,163.1h.95 M367.8,159.5h.95 M375.6,149.1h.95 M371.0,170.0h.95 M371.9,143.9h.95 M373.6,158.9h.95 M363.3,166.5h.95 M371.5,172.4h.95 M367.4,154.5h.95 M378.4,139.6h.95 M366.7,159.1h.95 M373.0,164.4h.95 M371.5,167.5h.95 M373.1,162.2h.95 M371.2,146.5h.95 M367.7,159.6h.95 M369.3,163.0h.95 M372.0,158.7h.95 M373.4,165.0h.95 M375.3,167.8h.95 M366.9,168.5h.95 M378.2,145.3h.95 M369.8,142.2h.95 M373.9,171.5h.95 M374.3,167.0h.95 M366.8,175.3h.95 M373.1,154.6h.95 M367.4,155.0h.95 M374.3,152.8h.95 M375.5,164.3h.95 M374.1,153.4h.95 M369.5,162.6h.95 M366.4,159.3h.95 M367.0,156.9h.95 M372.8,160.1h.95 M375.2,160.3h.95 M380.3,152.0h.95 M366.9,165.7h.95 M374.0,142.6h.95 M369.6,146.1h.95 M373.2,146.7h.95 M369.5,166.9h.95 M370.6,159.1h.95 M367.7,171.5h.95 M375.8,148.0h.95 M372.1,163.1h.95 M377.4,172.4h.95 M375.7,155.3h.95 M375.5,154.1h.95 M377.1,151.5h.95 M372.3,151.1h.95 M367.8,158.4h.95 M374.1,172.3h.95 M374.9,153.5h.95 M376.6,156.7h.95 M378.1,147.7h.95 M375.3,169.0h.95 M372.6,156.3h.95 M372.5,168.1h.95 M376.6,160.9h.95 M371.6,155.8h.95 M377.7,160.2h.95 M367.5,157.1h.95 M373.4,175.5h.95 M369.3,159.1h.95 M363.9,151.4h.95 M366.4,153.7h.95 M367.3,164.4h.95 M369.1,163.1h.95 M363.3,168.7h.95 M376.3,153.0h.95 M382.0,172.2h.95 M379.0,155.1h.95 M366.1,174.2h.95 M369.8,158.9h.95 M369.9,146.0h.95 M371.9,165.1h.95 M367.9,170.9h.95 M371.7,160.6h.95 M368.3,157.4h.95 M368.7,164.9h.95 M377.3,147.1h.95 M370.3,143.9h.95 M370.2,148.8h.95 M373.1,162.7h.95 M372.1,162.3h.95 M373.3,159.2h.95 M371.6,167.7h.95 M374.4,149.7h.95 M367.3,160.8h.95 M376.5,149.5h.95 M368.4,137.7h.95 M368.5,153.7h.95 M374.0,134.4h.95 M369.3,148.1h.95 M374.7,165.8h.95 M372.4,166.1h.95 M373.4,156.7h.95 M363.0,156.5h.95 M373.8,148.8h.95 M372.6,166.0h.95 M375.6,148.5h.95 M372.8,147.0h.95 M371.2,158.0h.95 M363.8,155.7h.95 M368.4,141.2h.95 M376.5,151.2h.95 M374.9,158.2h.95 M371.4,162.5h.95 M374.1,159.7h.95 M372.4,155.0h.95 M375.1,154.3h.95 M373.3,154.6h.95 M377.7,145.7h.95 M379.1,162.2h.95 M374.1,157.1h.95 M381.5,140.9h.95 M374.6,140.0h.95 M378.9,166.5h.95 M375.8,154.7h.95 M370.6,146.6h.95 M375.2,170.1h.95 M368.3,162.2h.95 M377.8,152.9h.95 M377.0,159.4h.95 M378.5,158.6h.95 M376.0,159.8h.95 M370.7,156.0h.95 M367.0,160.3h.95 M374.7,168.7h.95 M372.0,160.6h.95 M367.7,177.0h.95 M377.6,160.6h.95 M385.7,132.0h.95 M363.2,155.8h.95 M371.0,154.4h.95 M366.2,152.2h.95 M388.2,162.6h.95 M365.3,165.0h.95 M371.6,155.4h.95 M370.0,160.4h.95 M378.9,152.7h.95 M377.3,157.8h.95 M370.2,161.9h.95 M370.4,172.6h.95 M373.4,159.4h.95 M371.0,150.9h.95 M383.7,161.8h.95 M375.5,167.5h.95 M377.6,157.6h.95 M365.4,171.2h.95 M375.9,163.3h.95 M372.0,136.5h.95 M368.4,155.4h.95 M363.2,174.7h.95 M372.0,173.4h.95 M380.7,162.0h.95 M375.1,162.7h.95 M373.6,168.4h.95 M370.5,151.4h.95 M375.1,174.4h.95 M376.3,168.5h.95 M373.6,153.6h.95 M369.3,162.6h.95 M371.1,155.6h.95 M376.6,145.2h.95 M373.8,140.8h.95 M367.9,145.0h.95 M371.1,152.5h.95 M371.7,158.2h.95 M368.0,157.0h.95 M381.8,153.7h.95 M372.2,158.7h.95 M375.7,159.1h.95 M372.3,156.8h.95 M378.4,148.0h.95 M367.4,166.0h.95 M372.4,151.3h.95 M376.9,158.7h.95 M382.3,156.2h.95 M378.9,143.8h.95 M379.8,154.0h.95 M375.0,170.8h.95 M363.9,167.2h.95 M375.7,148.1h.95 M371.8,149.8h.95 M375.0,144.4h.95 M364.8,168.7h.95 M367.8,169.4h.95 M380.0,163.7h.95 M368.4,163.6h.95 M376.5,161.0h.95 M375.8,152.5h.95 M369.3,175.9h.95 M368.0,171.1h.95 M380.0,161.9h.95 M367.3,157.3h.95 M372.6,166.7h.95 M377.4,148.7h.95 M373.6,164.7h.95 M368.2,178.0h.95 M374.1,154.6h.95 M368.0,160.1h.95 M387.7,162.5h.95 M364.3,156.5h.95 M370.3,163.7h.95 M375.2,158.7h.95 M377.0,152.4h.95 M377.8,155.5h.95 M363.6,150.9h.95 M365.5,167.2h.95 M370.5,163.1h.95 M377.6,167.1h.95 M376.5,165.2h.95 M372.2,173.3h.95 M363.5,160.3h.95 M373.6,156.6h.95 M364.2,153.9h.95 M368.3,173.4h.95 M375.6,167.9h.95 M371.6,159.8h.95 M369.5,155.1h.95 M371.0,161.6h.95 M367.8,162.9h.95 M367.4,160.2h.95 M378.5,147.5h.95 M374.3,169.7h.95 M377.1,148.7h.95 M382.0,174.4h.95 M372.4,161.6h.95 M377.4,166.1h.95 M370.5,139.3h.95 M377.0,174.2h.95 M372.4,146.8h.95 M369.4,154.7h.95 M372.8,171.2h.95 M369.3,150.0h.95 M377.9,161.8h.95 M377.6,162.8h.95 M373.5,158.5h.95 M366.4,158.2h.95 M370.5,173.0h.95 M368.4,167.6h.95 M368.4,168.7h.95 M369.1,174.9h.95 M376.5,156.5h.95 M373.5,160.6h.95 M372.6,160.9h.95 M367.2,173.9h.95 M372.7,149.8h.95 M373.4,144.3h.95 M365.9,163.5h.95 M369.4,149.2h.95 M380.3,160.2h.95 M375.8,159.5h.95 M367.6,161.5h.95 M367.4,147.2h.95 M375.1,147.3h.95 M374.0,177.0h.95 M376.1,156.5h.95 M363.3,162.2h.95 M368.2,175.9h.95 M369.0,152.6h.95 M374.0,155.4h.95 M374.4,162.7h.95 M379.3,160.1h.95 M371.1,155.8h.95 M366.9,150.4h.95 M379.3,153.4h.95 M369.3,144.5h.95 M369.1,160.0h.95 M372.5,147.3h.95 M365.7,148.7h.95 M377.0,155.1h.95 M365.6,148.3h.95 M380.3,161.1h.95 M379.0,163.3h.95 M363.8,168.8h.95 M370.7,159.5h.95 M378.3,144.6h.95 M379.4,150.8h.95 M370.0,164.1h.95 M365.5,150.0h.95 M378.1,155.8h.95 M368.2,154.3h.95 M374.6,156.5h.95 M367.0,158.7h.95 M369.7,153.2h.95 M375.1,153.8h.95 M370.3,145.9h.95 M375.9,146.1h.95 M376.2,151.4h.95 M374.1,167.7h.95 M363.9,170.4h.95 M375.1,149.5h.95 M373.2,157.7h.95 M380.8,159.1h.95 M364.1,175.8h.95 M370.8,153.1h.95 M375.7,159.5h.95 M376.1,157.8h.95 M369.0,163.5h.95 M375.8,148.9h.95 M367.1,169.6h.95 M372.9,139.6h.95 M366.9,172.1h.95 M374.2,153.5h.95 M369.5,160.1h.95 M374.5,173.5h.95 M372.2,153.5h.95 M376.6,146.7h.95 M372.0,171.8h.95 M378.5,149.5h.95 M369.4,150.7h.95 M377.1,158.2h.95 M363.4,167.2h.95 M371.1,149.6h.95 M377.2,161.5h.95 M374.9,158.9h.95 M378.3,162.7h.95 M375.7,164.2h.95 M373.4,158.5h.95 M377.4,170.6h.95 M366.0,149.1h.95 M374.1,143.3h.95 M367.5,158.8h.95 M375.1,142.3h.95 M372.1,162.8h.95 M375.7,158.4h.95 M368.8,153.5h.95 M363.4,171.1h.95 M378.7,160.7h.95 M370.8,156.1h.95 M377.6,152.1h.95 M367.8,165.5h.95 M377.2,157.9h.95 M369.3,152.3h.95 M377.7,137.7h.95 M367.2,166.9h.95 M369.0,157.0h.95 M377.3,145.5h.95 M363.1,152.2h.95 M383.6,148.1h.95 M387.2,147.6h.95 M364.6,157.0h.95 M394.9,158.0h.95 M384.6,154.2h.95 M380.5,142.1h.95 M385.8,154.4h.95 M373.7,142.2h.95 M373.8,156.3h.95 M383.8,163.3h.95 M377.2,153.8h.95 M383.4,154.4h.95 M381.2,153.9h.95 M369.8,158.2h.95 M389.5,149.7h.95 M386.1,145.1h.95 M394.4,161.0h.95 M384.7,160.3h.95 M392.9,159.0h.95 M374.4,163.2h.95 M387.4,143.0h.95 M401.1,151.3h.95 M372.3,158.2h.95 M378.2,156.9h.95 M386.0,150.7h.95 M379.9,168.7h.95 M386.5,148.6h.95 M368.5,158.9h.95 M386.5,153.2h.95 M374.5,156.3h.95 M373.7,154.6h.95 M370.6,146.9h.95 M364.2,177.0h.95 M382.4,153.9h.95 M373.4,157.7h.95 M381.9,159.7h.95 M384.6,138.1h.95 M368.2,161.3h.95 M378.8,153.5h.95 M381.7,158.4h.95 M380.7,153.0h.95 M380.3,141.2h.95 M382.0,164.2h.95 M368.8,152.3h.95 M378.3,158.7h.95 M370.5,158.8h.95 M380.3,158.6h.95 M378.3,147.0h.95 M387.1,146.8h.95 M379.7,164.0h.95 M387.0,139.4h.95 M390.9,140.8h.95 M383.2,149.4h.95 M380.9,143.3h.95 M378.9,137.0h.95 M387.0,153.6h.95 M381.0,165.5h.95 M375.3,157.1h.95 M400.0,153.3h.95 M388.1,150.1h.95 M378.7,148.9h.95 M365.5,150.6h.95 M396.0,145.9h.95 M380.5,151.9h.95 M386.2,155.2h.95 M381.9,148.8h.95 M378.3,150.8h.95 M383.6,146.6h.95 M373.3,159.6h.95 M377.7,144.7h.95 M382.9,165.2h.95 M371.1,141.1h.95 M383.6,162.2h.95 M373.9,154.1h.95 M392.1,136.9h.95 M378.2,156.2h.95 M395.9,155.9h.95 M393.1,146.5h.95 M381.7,142.8h.95 M384.8,158.3h.95 M369.2,156.6h.95 M385.0,141.1h.95 M363.0,149.0h.95 M378.7,154.3h.95 M385.0,145.8h.95 M388.9,143.9h.95 M393.7,139.6h.95 M387.4,148.3h.95 M377.8,151.2h.95 M394.3,167.2h.95 M384.5,156.2h.95 M387.9,143.6h.95 M379.1,136.9h.95 M377.5,151.0h.95 M390.6,146.2h.95 M379.6,145.3h.95 M369.8,156.6h.95 M370.2,139.9h.95 M392.9,137.9h.95 M389.4,151.5h.95 M374.1,158.5h.95 M373.5,155.4h.95 M378.6,146.5h.95 M377.8,151.0h.95 M372.5,153.1h.95 M374.7,156.8h.95 M380.5,156.4h.95 M381.2,145.2h.95 M371.7,175.5h.95 M390.8,130.7h.95 M374.4,144.1h.95 M387.2,152.6h.95 M370.2,138.1h.95 M382.8,162.5h.95 M385.1,149.1h.95 M375.1,136.8h.95 M384.3,152.2h.95 M383.3,135.1h.95 M400.6,147.1h.95 M375.5,144.3h.95 M394.6,154.1h.95 M371.9,150.2h.95 M387.1,150.4h.95 M380.8,155.5h.95 M382.3,148.8h.95 M380.9,138.1h.95 M376.6,154.7h.95 M378.7,156.9h.95 M372.2,160.3h.95 M381.2,167.5h.95 M379.9,142.1h.95 M393.0,154.8h.95 M384.0,151.4h.95 M389.9,156.5h.95 M372.7,148.2h.95 M374.9,177.0h.95 M379.1,153.3h.95 M382.4,155.9h.95 M387.1,145.0h.95 M386.8,133.3h.95 M384.9,168.3h.95 M382.6,156.7h.95 M368.8,156.5h.95 M374.2,155.9h.95 M375.6,165.0h.95 M377.4,153.4h.95 M376.2,163.0h.95 M393.4,141.5h.95 M363.3,155.5h.95 M378.8,166.9h.95 M372.7,167.0h.95 M370.8,157.3h.95 M391.2,155.3h.95 M375.1,163.9h.95 M367.6,156.8h.95 M377.2,156.1h.95 M373.5,151.6h.95 M371.7,151.7h.95 M375.9,148.5h.95 M374.1,151.7h.95 M384.4,152.5h.95 M393.7,147.6h.95 M374.1,149.8h.95 M374.6,159.3h.95 M381.1,151.5h.95 M394.3,162.4h.95 M379.0,144.8h.95 M379.8,150.9h.95 M392.9,158.8h.95 M381.3,146.7h.95 M376.4,168.2h.95 M373.2,154.0h.95 M382.5,138.1h.95 M391.3,161.8h.95 M389.1,143.3h.95 M393.6,150.2h.95 M376.7,153.2h.95 M393.1,144.3h.95 M394.2,142.6h.95 M376.4,162.4h.95 M395.4,160.3h.95 M378.3,156.4h.95 M373.9,159.7h.95 M381.0,134.4h.95 M380.5,157.3h.95 M382.0,145.3h.95 M374.6,158.2h.95 M367.4,151.8h.95 M386.3,139.5h.95 M371.7,138.9h.95 M387.8,153.0h.95 M378.0,156.4h.95 M371.5,150.0h.95 M376.3,160.2h.95 M385.0,150.8h.95 M376.4,156.3h.95 M377.2,143.7h.95 M388.8,156.2h.95 M380.7,142.3h.95 M378.8,139.7h.95 M384.5,146.6h.95 M364.8,151.5h.95 M383.7,147.6h.95 M384.8,147.7h.95 M377.0,147.2h.95 M381.5,161.1h.95 M373.1,154.3h.95 M383.6,169.5h.95 M364.9,149.9h.95 M380.9,130.7h.95 M369.0,158.8h.95 M376.3,150.1h.95 M392.0,136.8h.95 M373.1,145.8h.95 M371.5,153.6h.95 M382.3,147.7h.95 M374.8,144.5h.95 M380.5,153.3h.95 M378.9,162.0h.95 M386.6,148.6h.95 M384.6,137.2h.95 M374.2,157.4h.95 M381.1,146.3h.95 M379.6,146.1h.95 M384.6,165.7h.95 M375.7,170.7h.95 M378.8,157.0h.95 M385.6,150.2h.95 M380.5,143.2h.95 M385.6,161.2h.95 M375.6,152.1h.95 M394.3,150.3h.95 M379.7,151.3h.95 M387.1,151.8h.95 M383.3,155.6h.95 M376.7,160.6h.95 M386.1,155.7h.95 M385.3,148.4h.95 M388.6,171.7h.95 M373.5,165.0h.95 M379.7,147.1h.95 M400.8,134.5h.95 M391.6,146.6h.95 M378.0,149.7h.95 M364.0,151.1h.95 M381.1,148.1h.95 M373.0,164.2h.95 M376.0,154.9h.95 M383.7,154.9h.95 M383.7,146.8h.95 M371.9,156.7h.95 M368.8,161.2h.95 M388.1,156.4h.95 M395.6,144.4h.95 M388.0,150.0h.95 M387.8,142.2h.95 M381.8,156.9h.95 M376.7,139.2h.95 M379.6,157.1h.95 M375.5,168.0h.95 M377.1,151.7h.95 M377.2,160.2h.95 M384.2,148.4h.95 M377.6,151.7h.95 M373.4,148.6h.95 M373.3,158.1h.95 M382.1,156.0h.95 M372.1,139.3h.95 M392.9,163.0h.95 M381.9,162.7h.95 M383.4,162.5h.95 M385.5,147.4h.95 M394.4,139.2h.95 M377.4,146.7h.95 M377.4,155.0h.95 M377.1,168.1h.95 M385.7,167.5h.95 M379.2,149.4h.95 M381.9,165.1h.95 M375.9,149.2h.95 M389.6,137.7h.95 M366.8,153.9h.95 M377.2,148.2h.95 M367.8,158.3h.95 M386.5,156.3h.95 M378.2,161.6h.95 M389.7,160.7h.95 M373.9,157.9h.95 M378.5,137.1h.95 M383.1,158.9h.95 M385.5,148.8h.95 M383.2,152.8h.95 M384.6,161.1h.95 M371.6,159.4h.95 M372.4,150.2h.95 M396.2,138.4h.95 M384.5,149.2h.95 M375.6,165.0h.95 M385.3,163.3h.95 M383.4,153.4h.95 M386.9,150.7h.95 M381.8,157.3h.95 M367.5,160.0h.95 M386.4,143.0h.95 M391.8,157.4h.95 M373.7,149.8h.95 M377.5,133.8h.95 M383.5,164.2h.95 M376.7,142.0h.95 M366.7,156.3h.95 M370.2,143.8h.95 M377.5,162.3h.95 M367.6,162.9h.95 M363.8,163.1h.95 M373.4,171.2h.95 M382.0,148.3h.95 M386.8,154.5h.95 M366.5,175.8h.95" stroke="#000" stroke-width="0.95" fill="none"/>
<text id="t40" class="nm" style="text-anchor:start" transform="translate(406,133.6) scale(1.0480,1)">3.0</text>
<text id="t41" class="tt" style="text-anchor:start" transform="translate(360,118.1) scale(1.1193,1)">αDEC-OVA + αCD40</text>
<rect class="fr" x="451.8" y="121.6" width="63.6" height="58.4"/>
<path d="M451.7,121.6 V180" stroke="#000" stroke-width="1.15" fill="none"/><path d="M451.0,180 H515.4" stroke="#000" stroke-width="1.3" fill="none"/>
<path class="th" d="M467.6,121.6 V180 M451.8,162.9 H515.4"/>
<path d="M457.9,180 v1.5 M451.8,175.1 h-1.5 M460.6,180 v1.5 M451.8,172.6 h-1.5 M462.4,180 v1.5 M451.8,170.8 h-1.5 M463.9,180 v1.5 M451.8,169.4 h-1.5 M465.1,180 v1.5 M451.8,168.3 h-1.5 M466.1,180 v1.5 M451.8,167.3 h-1.5 M467.0,180 v1.5 M451.8,166.5 h-1.5 M467.7,180 v1.5 M451.8,165.7 h-1.5 M472.9,180 v1.5 M451.8,160.8 h-1.5 M475.6,180 v1.5 M451.8,158.3 h-1.5 M477.4,180 v1.5 M451.8,156.5 h-1.5 M478.9,180 v1.5 M451.8,155.1 h-1.5 M480.1,180 v1.5 M451.8,154.0 h-1.5 M481.1,180 v1.5 M451.8,153.0 h-1.5 M482.0,180 v1.5 M451.8,152.2 h-1.5 M482.7,180 v1.5 M451.8,151.4 h-1.5 M487.9,180 v1.5 M451.8,146.5 h-1.5 M490.6,180 v1.5 M451.8,144.0 h-1.5 M492.5,180 v1.5 M451.8,142.2 h-1.5 M493.9,180 v1.5 M451.8,140.8 h-1.5 M495.1,180 v1.5 M451.8,139.7 h-1.5 M496.1,180 v1.5 M451.8,138.7 h-1.5 M497.0,180 v1.5 M451.8,137.9 h-1.5 M497.7,180 v1.5 M451.8,137.1 h-1.5 M502.9,180 v1.5 M451.8,132.2 h-1.5 M505.6,180 v1.5 M451.8,129.6 h-1.5 M507.5,180 v1.5 M451.8,127.9 h-1.5 M508.9,180 v1.5 M451.8,126.5 h-1.5 M510.1,180 v1.5 M451.8,125.3 h-1.5 M511.1,180 v1.5 M451.8,124.4 h-1.5 M512.0,180 v1.5 M451.8,123.6 h-1.5 M512.8,180 v1.5 M451.8,122.8 h-1.5 M453.4,180 v2.4 M451.8,179.4 h-2.4 M468.4,180 v2.4 M451.8,165.1 h-2.4 M483.4,180 v2.4 M451.8,150.8 h-2.4 M498.4,180 v2.4 M451.8,136.5 h-2.4 M513.4,180 v2.4 M451.8,122.2 h-2.4" stroke="#111" stroke-width="0.6" fill="none"/>
<text class="ft" x="453.7" y="186.6">10<tspan dy="-1.7" font-size="3.3">0</tspan></text>
<text class="ft" transform="translate(448.4,179.1) rotate(-90)">10<tspan dy="-1.7" font-size="3.3">0</tspan></text>
<text class="ft" x="468.7" y="186.6">10<tspan dy="-1.7" font-size="3.3">1</tspan></text>
<text class="ft" transform="translate(448.4,164.8) rotate(-90)">10<tspan dy="-1.7" font-size="3.3">1</tspan></text>
<text class="ft" x="483.7" y="186.6">10<tspan dy="-1.7" font-size="3.3">2</tspan></text>
<text class="ft" transform="translate(448.4,150.5) rotate(-90)">10<tspan dy="-1.7" font-size="3.3">2</tspan></text>
<text class="ft" x="498.7" y="186.6">10<tspan dy="-1.7" font-size="3.3">3</tspan></text>
<text class="ft" transform="translate(448.4,136.2) rotate(-90)">10<tspan dy="-1.7" font-size="3.3">3</tspan></text>
<text class="ft" x="513.7" y="186.6">10<tspan dy="-1.7" font-size="3.3">4</tspan></text>
<text class="ft" transform="translate(448.4,121.9) rotate(-90)">10<tspan dy="-1.7" font-size="3.3">4</tspan></text>
<path d="M459.1,155.1h.95 M461.1,165.0h.95 M458.6,158.6h.95 M464.1,138.3h.95 M463.9,150.4h.95 M455.9,166.2h.95 M461.1,164.4h.95 M457.9,134.4h.95 M458.5,160.5h.95 M453.0,154.6h.95 M460.9,160.2h.95 M461.6,176.0h.95 M465.2,144.3h.95 M453.0,158.1h.95 M459.8,154.4h.95 M456.8,159.7h.95 M457.8,169.0h.95 M457.4,162.8h.95 M459.4,172.3h.95 M459.0,168.3h.95 M457.0,156.4h.95 M464.1,154.1h.95 M458.2,162.1h.95 M465.0,171.7h.95 M464.2,170.8h.95 M457.6,157.6h.95 M459.2,142.3h.95 M461.8,157.7h.95 M463.5,156.5h.95 M457.0,147.7h.95 M465.6,144.5h.95 M455.6,140.7h.95 M458.5,150.7h.95 M464.4,134.5h.95 M454.0,168.3h.95 M464.4,152.1h.95 M458.8,172.8h.95 M461.6,159.0h.95 M453.0,134.6h.95 M459.2,134.9h.95 M461.5,158.4h.95 M464.9,164.7h.95 M463.8,135.6h.95 M456.3,153.1h.95 M458.0,157.2h.95 M459.3,177.6h.95 M464.6,156.9h.95 M463.6,163.0h.95 M458.6,161.5h.95 M454.7,140.9h.95 M464.8,143.3h.95 M462.5,160.2h.95 M461.7,127.8h.95 M466.2,153.1h.95 M456.0,151.4h.95 M452.9,149.0h.95 M456.5,174.4h.95 M455.9,151.8h.95 M461.5,162.5h.95 M460.5,159.1h.95 M455.2,161.5h.95 M465.2,139.4h.95 M457.7,155.8h.95 M455.7,151.7h.95 M459.7,157.3h.95 M465.0,148.3h.95 M462.0,151.8h.95 M462.7,174.9h.95 M461.7,161.3h.95 M466.4,155.8h.95 M457.1,163.5h.95 M464.0,155.6h.95 M460.4,144.8h.95 M462.6,157.9h.95 M465.2,149.9h.95 M462.1,152.9h.95 M452.9,149.3h.95 M464.0,151.7h.95 M463.3,159.5h.95 M456.8,156.5h.95 M457.7,147.3h.95 M463.2,177.4h.95 M462.5,144.6h.95 M463.9,161.3h.95 M456.8,149.1h.95 M463.8,156.3h.95 M455.7,172.8h.95 M461.0,165.2h.95 M457.5,153.9h.95 M463.9,176.2h.95 M457.5,145.9h.95 M459.8,160.9h.95 M462.4,167.8h.95 M455.5,158.3h.95 M465.8,146.9h.95 M460.0,148.1h.95 M458.5,169.0h.95 M453.8,156.3h.95 M463.3,153.4h.95 M459.9,161.4h.95 M464.1,157.2h.95 M454.6,145.8h.95 M457.6,154.4h.95 M460.0,147.7h.95 M460.9,145.9h.95 M460.8,161.8h.95 M458.1,151.9h.95 M456.9,149.5h.95 M459.1,166.5h.95 M456.8,159.6h.95 M466.6,149.0h.95 M460.1,166.1h.95 M467.1,158.8h.95 M460.0,161.6h.95 M465.0,154.9h.95 M458.3,156.2h.95 M456.3,168.2h.95 M459.4,173.2h.95 M464.4,138.0h.95 M455.9,159.8h.95 M454.1,157.2h.95 M460.8,150.5h.95 M455.0,164.3h.95 M457.6,160.4h.95 M459.8,162.4h.95 M463.0,132.9h.95 M464.3,142.3h.95 M456.0,148.5h.95 M460.1,145.8h.95 M463.9,150.6h.95 M453.8,157.6h.95 M458.1,153.8h.95 M460.1,147.7h.95 M454.0,165.8h.95 M459.7,154.6h.95 M458.5,158.2h.95 M460.2,147.7h.95 M459.6,155.4h.95 M453.2,174.4h.95 M454.5,155.3h.95 M459.6,156.4h.95 M463.3,172.5h.95 M461.5,134.4h.95 M460.1,173.8h.95 M459.2,162.9h.95 M463.4,157.4h.95 M454.1,152.5h.95 M457.9,149.0h.95 M454.9,167.4h.95 M458.3,161.4h.95 M459.4,151.0h.95 M461.9,155.1h.95 M460.8,160.6h.95 M454.0,163.7h.95 M458.3,161.1h.95 M453.0,164.0h.95 M458.1,166.8h.95 M458.5,158.5h.95 M462.1,148.2h.95 M456.0,153.1h.95 M459.0,158.8h.95 M464.5,149.1h.95 M461.2,168.0h.95 M458.9,147.2h.95 M457.3,166.4h.95 M456.2,156.4h.95 M456.5,131.5h.95 M460.0,156.3h.95 M458.1,152.8h.95 M461.7,160.0h.95 M458.3,146.9h.95 M460.6,150.1h.95 M460.1,162.4h.95 M461.7,149.8h.95 M460.0,157.3h.95 M463.4,164.7h.95 M461.8,158.1h.95 M460.7,149.3h.95 M454.7,159.4h.95 M460.0,155.4h.95 M468.1,162.2h.95 M460.7,148.9h.95 M452.8,150.9h.95 M463.1,161.4h.95 M459.3,163.3h.95 M464.8,162.9h.95 M455.3,165.3h.95 M457.5,156.5h.95 M460.3,147.5h.95 M453.5,155.8h.95 M459.2,157.1h.95 M457.7,161.7h.95 M462.1,145.9h.95 M454.6,154.0h.95 M456.8,151.4h.95 M458.8,170.6h.95 M457.4,157.2h.95 M463.7,143.0h.95 M464.0,154.7h.95 M461.9,159.6h.95 M465.4,164.1h.95 M456.5,148.6h.95 M454.9,155.7h.95 M464.6,153.2h.95 M462.5,154.8h.95 M461.2,169.1h.95 M466.4,158.6h.95 M458.6,155.4h.95 M465.0,158.8h.95 M459.8,147.4h.95 M462.7,160.2h.95 M459.1,156.8h.95 M457.2,168.1h.95 M457.5,170.5h.95 M467.8,164.0h.95 M462.4,174.8h.95 M458.2,141.6h.95 M459.5,172.5h.95 M458.5,173.5h.95 M452.7,143.2h.95 M458.8,155.2h.95 M464.8,163.1h.95 M461.0,156.1h.95 M457.4,160.9h.95 M455.7,171.9h.95 M462.6,161.6h.95 M452.6,142.7h.95 M457.8,167.8h.95 M463.9,160.6h.95 M459.5,156.0h.95 M455.4,156.3h.95 M459.4,153.5h.95 M458.6,157.5h.95 M461.9,148.1h.95 M457.4,148.9h.95 M456.3,160.1h.95 M460.5,156.1h.95 M452.9,168.7h.95 M462.7,157.6h.95 M455.6,158.2h.95 M459.6,153.3h.95 M461.9,163.8h.95 M462.8,175.7h.95 M466.5,167.9h.95 M461.9,143.9h.95 M458.8,172.7h.95 M456.0,159.7h.95 M460.9,146.0h.95 M458.8,160.9h.95 M459.3,158.0h.95 M456.3,163.2h.95 M457.6,150.1h.95 M458.2,161.2h.95 M467.9,154.7h.95 M463.0,174.2h.95 M460.9,152.5h.95 M461.7,156.2h.95 M458.6,172.3h.95 M463.4,160.9h.95 M453.4,144.0h.95 M465.4,167.5h.95 M465.5,176.3h.95 M461.4,164.6h.95 M460.4,151.0h.95 M463.6,151.4h.95 M460.7,148.6h.95 M456.5,154.7h.95 M458.4,168.6h.95 M460.5,151.7h.95 M461.9,143.7h.95 M457.1,171.3h.95 M459.7,142.4h.95 M452.8,161.6h.95 M459.3,153.8h.95 M458.4,157.6h.95 M462.1,169.8h.95 M459.6,168.1h.95 M461.1,147.7h.95 M464.7,164.7h.95 M459.2,146.4h.95 M453.4,134.7h.95 M456.8,151.5h.95 M459.7,141.9h.95 M461.7,160.2h.95 M458.3,156.6h.95 M455.6,155.4h.95 M460.5,163.5h.95 M458.0,130.8h.95 M465.2,155.6h.95 M465.2,147.6h.95 M452.9,149.1h.95 M458.1,154.1h.95 M460.5,149.1h.95 M461.7,148.4h.95 M459.4,158.2h.95 M459.0,169.7h.95 M459.5,147.4h.95 M462.9,165.1h.95 M461.1,150.3h.95 M454.9,155.3h.95 M461.2,150.3h.95 M461.0,173.9h.95 M452.8,140.4h.95 M461.7,172.9h.95 M452.9,154.7h.95 M461.8,148.2h.95 M463.8,170.3h.95 M454.7,157.3h.95 M460.0,150.2h.95 M459.5,159.4h.95 M467.6,143.1h.95 M464.3,146.9h.95 M457.0,159.0h.95 M459.7,168.0h.95 M456.7,156.7h.95 M455.5,153.4h.95 M461.8,159.5h.95 M458.7,152.2h.95 M461.8,153.8h.95 M455.4,173.9h.95 M467.7,162.2h.95 M458.6,175.1h.95 M457.0,165.1h.95 M463.0,176.0h.95 M454.8,162.6h.95 M458.2,165.3h.95 M458.4,172.8h.95 M461.0,146.1h.95 M460.6,162.6h.95 M464.7,152.0h.95 M456.1,163.8h.95 M457.7,158.5h.95 M464.5,163.3h.95 M459.5,156.6h.95 M455.5,163.0h.95 M462.3,146.4h.95 M453.0,152.3h.95 M458.9,145.6h.95 M462.3,138.5h.95 M461.2,161.1h.95 M456.9,171.8h.95 M462.1,152.3h.95 M463.1,153.7h.95 M454.4,162.6h.95 M459.1,156.3h.95 M462.9,143.6h.95 M461.1,176.9h.95 M456.2,178.6h.95 M457.1,169.5h.95 M460.9,159.5h.95 M464.2,146.6h.95 M458.3,149.0h.95 M460.0,153.3h.95 M465.0,167.4h.95 M459.7,143.1h.95 M457.2,156.1h.95 M460.5,161.4h.95 M455.1,165.1h.95 M456.3,148.1h.95 M460.9,150.8h.95 M455.6,153.8h.95 M460.5,147.6h.95 M457.3,150.5h.95 M465.1,139.5h.95 M456.5,168.9h.95 M454.5,149.6h.95 M462.2,153.9h.95 M456.8,146.4h.95 M466.0,156.7h.95 M459.6,146.4h.95 M461.9,144.5h.95 M458.5,154.7h.95 M458.7,163.2h.95 M458.9,160.5h.95 M461.9,160.1h.95 M460.3,165.2h.95 M455.4,145.0h.95 M456.3,141.2h.95 M463.5,178.5h.95 M457.6,162.0h.95 M460.1,159.3h.95 M457.8,146.2h.95 M459.5,148.6h.95 M457.4,164.6h.95 M465.0,159.3h.95 M455.9,160.0h.95 M463.9,158.3h.95 M457.3,152.1h.95 M463.7,158.8h.95 M458.8,161.3h.95 M466.5,157.7h.95 M461.5,176.5h.95 M460.7,157.0h.95 M458.8,161.7h.95 M454.9,172.7h.95 M460.6,163.5h.95 M459.7,159.4h.95 M458.1,164.8h.95 M466.9,166.6h.95 M458.1,160.8h.95 M455.7,167.5h.95 M463.2,148.1h.95 M460.5,126.8h.95 M463.1,145.3h.95 M457.0,148.0h.95 M466.3,159.9h.95 M466.7,163.8h.95 M455.8,158.9h.95 M457.0,152.2h.95 M455.9,157.6h.95 M452.7,159.3h.95 M463.9,159.3h.95 M461.2,147.0h.95 M455.9,170.4h.95 M460.3,154.9h.95 M459.0,166.9h.95 M464.5,167.6h.95 M459.0,158.2h.95 M462.7,161.3h.95 M457.0,139.2h.95 M456.9,150.7h.95 M459.4,162.2h.95 M459.8,160.0h.95 M461.2,176.6h.95 M459.9,156.9h.95 M456.4,162.0h.95 M462.4,154.9h.95 M458.9,144.7h.95 M458.3,165.7h.95 M462.6,166.2h.95 M457.1,144.5h.95 M454.0,159.4h.95 M460.4,155.0h.95 M454.6,160.8h.95 M458.8,139.7h.95 M463.7,163.9h.95 M463.2,150.7h.95 M459.6,159.9h.95 M459.0,172.3h.95 M457.7,149.2h.95 M465.4,139.0h.95 M458.6,152.0h.95 M455.3,153.9h.95 M455.0,161.5h.95 M457.9,162.5h.95 M462.9,146.5h.95 M454.9,166.4h.95 M460.5,159.3h.95 M461.3,148.7h.95 M458.9,172.2h.95 M464.8,169.8h.95 M458.9,167.7h.95 M461.6,149.9h.95 M459.2,168.5h.95 M459.3,154.3h.95 M461.7,174.4h.95 M459.7,160.7h.95 M460.5,152.7h.95 M459.2,155.6h.95 M459.2,160.9h.95 M458.3,158.6h.95 M464.0,156.5h.95 M455.9,166.9h.95 M461.9,164.9h.95 M459.6,151.7h.95 M459.3,149.6h.95 M463.5,166.0h.95 M464.9,142.7h.95 M461.4,171.7h.95 M466.5,159.4h.95 M463.8,161.7h.95 M464.3,159.5h.95 M465.5,169.2h.95 M463.1,159.7h.95 M464.1,171.0h.95 M457.9,163.9h.95 M456.7,154.3h.95 M461.0,153.7h.95 M461.9,151.5h.95 M465.1,167.9h.95 M467.0,155.5h.95 M462.8,154.8h.95 M461.9,162.4h.95 M455.5,158.7h.95 M466.9,160.8h.95 M456.4,169.2h.95 M456.5,162.2h.95 M460.6,172.7h.95 M466.9,165.8h.95 M463.9,142.8h.95 M463.5,150.8h.95 M457.2,166.1h.95 M463.3,157.0h.95 M462.6,147.0h.95 M464.2,177.4h.95 M459.4,138.8h.95 M458.2,140.8h.95 M457.5,153.1h.95 M460.3,138.3h.95 M458.8,167.8h.95 M456.5,167.6h.95 M461.6,149.9h.95 M463.8,157.6h.95 M461.9,148.6h.95 M456.4,152.6h.95 M457.8,164.9h.95 M458.6,154.7h.95 M457.7,165.4h.95 M456.1,160.2h.95 M461.4,168.9h.95 M460.4,154.8h.95 M457.7,154.8h.95 M463.0,154.7h.95 M457.4,159.8h.95 M459.3,144.7h.95 M462.9,161.7h.95 M460.0,178.0h.95 M461.5,166.8h.95 M463.1,166.9h.95 M462.2,138.1h.95 M462.1,164.9h.95 M458.3,159.3h.95 M462.4,140.3h.95 M457.1,167.6h.95 M463.6,162.9h.95 M459.2,142.5h.95 M461.3,150.9h.95 M464.2,154.8h.95 M460.1,150.4h.95 M464.7,179.0h.95 M453.2,165.4h.95 M464.3,159.6h.95 M460.7,159.6h.95 M462.2,166.5h.95 M460.8,147.9h.95 M464.5,151.0h.95 M461.1,142.8h.95 M462.7,144.1h.95 M455.6,168.7h.95 M463.0,159.4h.95 M458.4,166.7h.95 M465.6,167.5h.95 M460.4,170.4h.95 M459.4,136.9h.95 M456.3,143.2h.95 M456.9,174.7h.95 M461.3,167.3h.95 M454.6,148.2h.95 M457.3,168.0h.95 M460.7,159.2h.95 M464.2,155.8h.95 M466.0,145.8h.95 M466.7,145.8h.95 M460.3,152.5h.95 M460.1,172.0h.95 M455.7,151.6h.95 M453.2,167.0h.95 M459.0,170.3h.95 M463.1,145.8h.95 M463.8,142.2h.95 M457.2,166.8h.95 M459.1,154.3h.95 M461.0,176.5h.95 M458.1,153.9h.95 M458.2,158.1h.95 M453.1,177.8h.95 M460.9,154.1h.95 M463.2,172.3h.95 M459.5,165.4h.95 M461.0,151.0h.95 M457.2,164.1h.95 M461.3,172.2h.95 M460.6,166.6h.95 M464.3,158.2h.95 M460.0,149.9h.95 M459.3,177.1h.95 M457.3,157.2h.95 M461.3,155.8h.95 M462.1,150.3h.95 M456.3,151.0h.95 M460.8,163.3h.95 M459.8,164.8h.95 M467.7,162.6h.95 M460.9,161.2h.95 M458.9,171.5h.95 M459.3,147.5h.95 M462.5,162.9h.95 M465.8,172.1h.95 M454.5,163.5h.95 M458.5,152.0h.95 M465.4,155.2h.95 M458.7,164.6h.95 M461.5,176.3h.95 M461.6,172.0h.95 M457.7,157.3h.95 M456.9,165.0h.95 M457.5,169.7h.95 M460.8,160.3h.95 M458.0,155.0h.95 M458.1,165.2h.95 M466.8,147.1h.95 M459.7,155.1h.95 M459.7,151.5h.95 M459.3,141.9h.95 M461.4,148.9h.95 M465.4,151.6h.95 M460.1,160.1h.95 M461.2,166.0h.95 M460.6,158.3h.95 M455.6,140.5h.95 M458.4,147.8h.95 M467.5,146.3h.95 M457.0,164.0h.95 M459.6,160.6h.95 M462.4,152.7h.95 M464.9,164.0h.95 M465.8,172.5h.95 M456.8,142.4h.95 M463.8,170.3h.95 M459.7,156.6h.95 M465.8,169.1h.95 M463.4,161.5h.95 M458.9,162.8h.95 M466.0,142.9h.95 M460.5,172.0h.95 M458.3,163.1h.95 M463.8,172.6h.95 M460.9,147.2h.95 M462.0,158.0h.95 M465.1,157.0h.95 M462.6,154.7h.95 M468.0,168.9h.95 M465.9,157.1h.95 M457.0,159.4h.95 M459.8,145.3h.95 M457.8,149.2h.95 M463.0,171.3h.95 M460.2,162.7h.95 M468.1,158.6h.95 M459.0,149.5h.95 M452.8,164.1h.95 M465.6,143.8h.95 M454.0,142.4h.95 M463.1,156.8h.95 M466.8,160.4h.95 M456.1,144.3h.95 M456.0,134.3h.95 M459.7,171.6h.95 M457.2,162.8h.95 M456.6,169.7h.95 M460.0,156.0h.95 M462.9,146.7h.95 M453.9,163.6h.95 M454.5,171.2h.95 M459.7,158.2h.95 M459.6,176.6h.95 M463.5,153.9h.95 M464.1,150.3h.95 M461.4,156.2h.95 M459.1,152.6h.95 M453.5,153.9h.95 M457.8,149.7h.95 M458.5,177.7h.95 M462.9,170.9h.95 M458.4,157.2h.95 M460.2,158.0h.95 M461.8,154.0h.95 M457.4,144.2h.95 M458.5,152.5h.95 M465.6,161.3h.95 M464.2,140.7h.95 M463.3,154.0h.95 M455.1,161.8h.95 M456.8,152.4h.95 M462.4,157.9h.95 M455.1,153.9h.95 M462.1,158.8h.95 M460.1,147.5h.95 M461.2,144.0h.95 M465.9,145.4h.95 M464.6,154.4h.95 M456.8,171.0h.95 M456.9,165.2h.95 M457.5,150.8h.95 M459.6,149.8h.95 M459.1,165.1h.95 M461.6,168.7h.95 M453.6,161.2h.95 M457.8,142.8h.95 M459.6,176.3h.95 M459.7,147.6h.95 M463.2,153.3h.95 M453.6,160.5h.95 M458.8,165.3h.95 M460.4,165.0h.95 M457.6,169.5h.95 M461.3,174.4h.95 M455.8,160.0h.95 M463.0,155.1h.95 M461.7,144.7h.95 M453.1,152.6h.95 M462.6,141.3h.95 M455.7,128.8h.95 M458.4,159.1h.95 M461.3,157.3h.95 M464.5,149.4h.95 M460.3,171.8h.95 M461.0,154.6h.95 M461.6,159.3h.95 M461.5,154.1h.95 M461.2,151.3h.95 M461.8,161.9h.95 M457.4,156.4h.95 M458.6,135.1h.95 M462.7,153.2h.95 M468.3,155.8h.95 M458.8,146.4h.95 M463.1,148.4h.95 M464.5,159.9h.95 M457.6,164.6h.95" stroke="#000" stroke-width="0.95" fill="none"/>
<text id="t42" class="nr" style="text-anchor:start" transform="translate(488.2,134.7) scale(1.0117,1)">&lt;0.1</text>
<text id="t43" class="tt" style="text-anchor:start" transform="translate(469.9,119.2) scale(1.0829,1)">αDEC-OVA</text>
<path d="M478,150h.8M478.4,155h.8M485,143.5h.8M471,158h.7" stroke="#555" stroke-width=".8"/>
<text class="tt" transform="translate(267.6,86.4) rotate(-90) scale(1.1,1)" style="font-size:6.8px;stroke-width:.5px">CD4</text>
<path d="M265.5,76 V68.4" stroke="#0a0a0a" stroke-width="1.4" fill="none"/><path d="M265.5,65.2 l-2.2,3.8 h4.4 z" fill="#0a0a0a"/>
<text id="t44" class="bd il" style="text-anchor:start" transform="translate(354.4,201.1) scale(0.9930,1)">IL-2</text>
<path d="M375.3,198.4 H387" stroke="#0a0a0a" stroke-width="1.2" fill="none"/><path d="M390.2,198.4 l-3.8,-1.8 v3.6 z" fill="#0a0a0a"/>
</svg></body></html>
